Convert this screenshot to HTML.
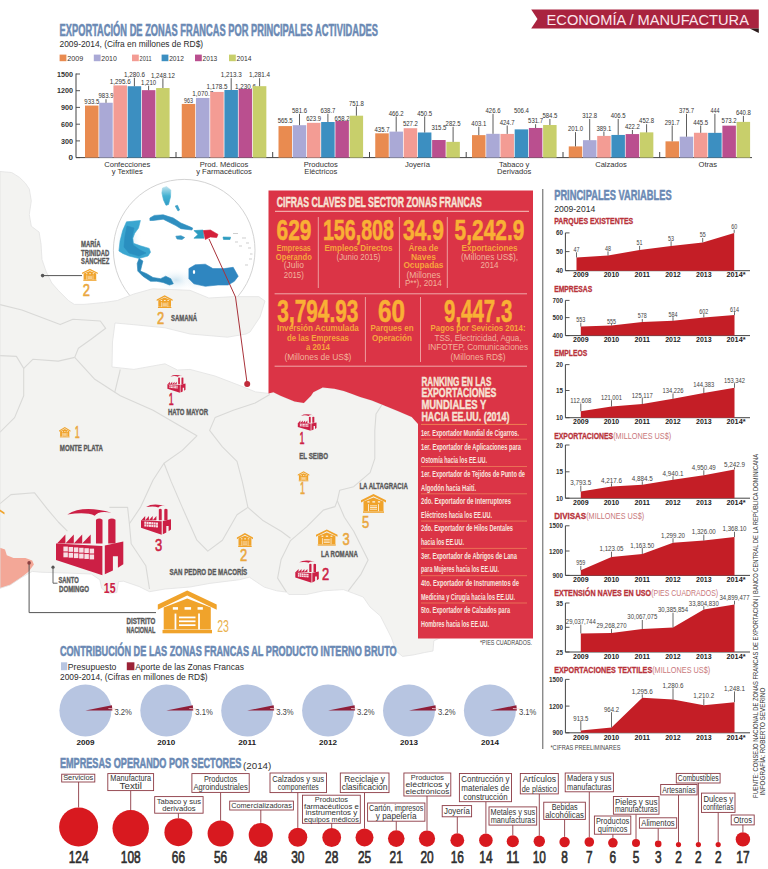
<!DOCTYPE html>
<html><head><meta charset="utf-8"><style>
html,body{margin:0;padding:0;background:#fff;width:768px;height:869px;overflow:hidden}
svg{display:block}
text{font-family:'Liberation Sans', sans-serif}
</style></head><body>
<svg width="768" height="869" viewBox="0 0 768 869">
<rect width="768" height="869" fill="#ffffff"/>
<circle cx="184.2" cy="250.2" r="70.8" fill="#ffffff" stroke="#d3d3d3" stroke-width="1"/>
<defs><radialGradient id="haze" cx="0.5" cy="0.5" r="0.5"><stop offset="0" stop-color="#cfe5f1"/><stop offset="1" stop-color="#ffffff" stop-opacity="0"/></radialGradient><linearGradient id="fl" x1="0" y1="0" x2="0" y2="1"><stop offset="0" stop-color="#bfe3ee"/><stop offset="0.5" stop-color="#45b2d2"/><stop offset="1" stop-color="#2f9cc6"/></linearGradient></defs>
<ellipse cx="176" cy="280" rx="22" ry="12" fill="url(#haze)"/>
<ellipse cx="196" cy="278" rx="14" ry="14" fill="url(#haze)"/>
<ellipse cx="128" cy="240" rx="14" ry="22" fill="url(#haze)"/>
<polygon points="162.5,188.0 166.5,186.5 170.8,190.0 170.5,197.0 168.5,204.5 166.0,205.3 163.5,200.0 161.9,193.0" fill="url(#fl)" stroke="url(#fl)" stroke-width="0.6" stroke-linejoin="round"/>
<polygon points="175.2,206.0 177.5,205.3 179.6,210.0 178.0,211.0" fill="#3a9fc6" stroke="#3a9fc6" stroke-width="0.6" stroke-linejoin="round"/>
<polygon points="149.9,218.0 154.3,215.4 163.2,214.8 173.3,218.0 180.9,223.0 190.0,226.8 192.7,228.1 192.0,230.0 180.9,228.7 175.8,225.6 163.2,219.2 153.0,220.5 149.9,220.5" fill="#2f8fc0" stroke="#2f8fc0" stroke-width="0.6" stroke-linejoin="round"/>
<polygon points="175.8,236.2 181.0,235.7 184.7,237.5 182.0,239.5 177.0,239.0" fill="#3596c3" stroke="#3596c3" stroke-width="0.6" stroke-linejoin="round"/>
<polygon points="126.5,221.8 140.4,220.5 138.5,228.1 134.7,233.2 132.8,238.2 133.4,243.3 140.4,245.8 149.2,248.4 150.5,252.2 148.0,256.0 139.1,258.5 129.0,256.0 122.7,253.4 118.9,250.9 120.1,240.8 122.7,230.6" fill="#3aa6d0" stroke="#3aa6d0" stroke-width="0.6" stroke-linejoin="round"/>
<polygon points="127.0,226.0 134.0,228.0 132.0,238.0 133.0,245.0 140.0,250.0 146.0,253.0 139.0,256.0 129.0,253.0 124.0,247.0 125.0,236.0" fill="#2a8fc0" stroke="#2a8fc0" stroke-width="0.6" stroke-linejoin="round"/>
<polygon points="139.1,258.5 142.9,261.0 141.6,266.1 140.4,271.1 146.7,273.7 153.0,277.5 160.6,278.7 165.7,276.2 170.8,278.7 173.3,283.8 169.5,285.0 163.2,282.5 156.8,281.3 150.5,281.3 142.9,276.2 137.8,271.1 137.2,263.5" fill="#2a86b8" stroke="#2a86b8" stroke-width="0.6" stroke-linejoin="round"/>
<polygon points="193.9,230.6 203.0,230.0 204.0,238.2 193.9,238.2 198.0,234.5" fill="#2c9bbf" stroke="#2c9bbf" stroke-width="0.6" stroke-linejoin="round"/>
<polygon points="203.4,230.6 210.4,230.0 218.0,234.4 216.7,237.6 210.4,237.0 205.3,239.5" fill="#d4203a" stroke="#d4203a" stroke-width="0.6" stroke-linejoin="round"/>
<polygon points="223.0,237.0 230.6,237.2 230.0,239.5 223.5,239.5" fill="#2c9bbf" stroke="#2c9bbf" stroke-width="0.6" stroke-linejoin="round"/>
<line x1="233" y1="233.5" x2="238" y2="233.5" stroke="#b9b9b9" stroke-width="0.7"/>
<line x1="242" y1="238" x2="246" y2="238" stroke="#b9b9b9" stroke-width="0.7"/>
<line x1="246" y1="243" x2="249" y2="243" stroke="#b9b9b9" stroke-width="0.7"/>
<line x1="248" y1="248" x2="251" y2="248" stroke="#b9b9b9" stroke-width="0.7"/>
<line x1="250" y1="254" x2="252.5" y2="254" stroke="#b9b9b9" stroke-width="0.7"/>
<line x1="249" y1="259" x2="252" y2="259" stroke="#b9b9b9" stroke-width="0.7"/>
<line x1="245" y1="265" x2="248" y2="265" stroke="#b9b9b9" stroke-width="0.7"/>
<line x1="235" y1="242" x2="238" y2="242" stroke="#b9b9b9" stroke-width="0.7"/>
<line x1="239" y1="246" x2="242" y2="246" stroke="#b9b9b9" stroke-width="0.7"/>
<polygon points="188.9,268.6 195.2,264.8 205.3,264.2 212.9,268.6 224.3,268.6 233.2,267.3 238.2,276.2 234.4,281.3 228.1,285.0 218.0,285.0 205.3,286.3 193.9,283.8 188.9,278.7" fill="#2f86c0" stroke="#2f86c0" stroke-width="0.6" stroke-linejoin="round"/>
<ellipse cx="194" cy="272" rx="1.2" ry="2" fill="#ffffff"/>
<polygon points="0.0,171.5 11.7,172.5 19.5,177.4 25.4,183.2 29.3,189.0 31.3,200.8 29.3,214.5 31.3,226.2 39.1,232.1 41.0,243.8 42.0,259.5 46.0,271.2 51.8,283.0 58.7,290.8 68.4,300.5 74.3,304.4 84.0,304.4 103.6,302.5 117.3,300.5 133.8,294.0 152.5,288.8 190.0,290.3 208.8,298.0 233.8,296.6 258.8,296.6 265.0,301.0 260.0,317.0 250.0,332.0 246.0,334.0 227.5,337.2 190.0,334.0 165.0,327.8 133.8,324.7 115.0,323.0 112.5,342.0 112.0,367.0 133.8,369.4 165.0,363.8 177.5,370.0 190.0,369.4 215.0,376.0 240.0,385.6 255.6,391.9 268.8,393.4 273.4,392.2 280.5,395.8 294.5,401.6 303.9,402.9 311.0,395.8 313.3,392.2 322.7,387.6 334.4,388.7 343.8,391.0 350.8,393.4 360.2,397.0 371.9,400.5 383.6,405.2 397.7,411.0 411.7,416.9 420.0,424.0 440.0,430.0 440.0,638.0 433.8,640.8 433.0,651.0 424.7,652.5 413.0,655.0 402.5,656.4 396.0,651.0 391.5,638.0 387.0,629.0 380.4,616.0 370.0,607.0 363.2,597.0 353.3,593.3 343.4,589.6 323.6,590.8 306.3,594.5 289.0,594.5 286.5,592.1 276.6,590.8 264.2,587.1 256.8,582.2 249.4,577.2 239.5,579.7 209.8,583.4 190.0,587.0 165.0,589.0 149.5,591.7 139.0,586.5 123.4,581.2 118.5,581.6 116.8,592.6 108.3,593.4 101.6,588.3 99.9,579.9 91.4,574.0 67.7,573.1 40.6,572.2 32.2,571.4 20.3,578.2 10.2,585.0 0.0,588.3" fill="#f3f3f1"/>
<polygon points="0.0,547.7 5.0,549.4 6.8,555.3 13.5,557.9 25.4,557.9 32.2,560.4 33.9,564.6 28.8,571.4 20.3,578.2 10.2,585.0 0.0,588.3" fill="#f3a797"/>
<polyline points="0.0,304.6 21.9,310.0 60.2,324.6 72.9,319.2 100.3,321.0 105.7,328.3 91.1,339.2 78.4,348.3 74.7,357.4" fill="none" stroke="#d9d9d7" stroke-width="1.1" stroke-linejoin="round"/>
<polyline points="23.7,368.4 32.8,359.3 58.3,361.1 74.7,357.4" fill="none" stroke="#d9d9d7" stroke-width="1.1" stroke-linejoin="round"/>
<polyline points="0.0,355.6 16.4,356.4 23.7,368.4 23.7,395.7 14.6,417.6 0.0,432.2" fill="none" stroke="#d9d9d7" stroke-width="1.1" stroke-linejoin="round"/>
<polyline points="74.7,357.4 94.8,379.3 120.3,395.7 153.1,410.3 196.9,435.8 182.3,450.4 164.0,463.2 153.1,480.0 140.4,507.4 129.4,523.8 131.2,543.8 145.8,565.7 149.5,589.0" fill="none" stroke="#d9d9d7" stroke-width="1.1" stroke-linejoin="round"/>
<polyline points="120.3,369.5 114.8,392.1" fill="none" stroke="#d9d9d7" stroke-width="1.1" stroke-linejoin="round"/>
<polyline points="269.8,394.5 255.2,403.0 233.3,410.3 215.1,417.6 209.6,430.4 222.4,446.8 237.0,461.3 242.4,481.9 247.9,507.4 262.5,520.2 281.1,531.2 290.5,538.3" fill="none" stroke="#d9d9d7" stroke-width="1.1" stroke-linejoin="round"/>
<polyline points="164.0,463.2 171.3,481.9 182.3,507.4 196.9,540.2 207.8,551.1 222.4,540.2 237.0,514.7 247.9,507.4" fill="none" stroke="#d9d9d7" stroke-width="1.1" stroke-linejoin="round"/>
<polyline points="0.0,503.7 10.9,494.6 34.6,492.8 47.4,509.2 58.3,522.0 67.4,531.1" fill="none" stroke="#d9d9d7" stroke-width="1.1" stroke-linejoin="round"/>
<polyline points="109.4,507.4 127.6,507.4 129.4,523.8" fill="none" stroke="#d9d9d7" stroke-width="1.1" stroke-linejoin="round"/>
<polyline points="381.9,404.7 376.0,414.0 374.8,430.5 374.8,458.6 370.1,472.7 353.7,486.7 339.7,490.2 337.3,500.8 335.0,506.6 323.3,510.1 306.9,526.6 290.5,540.6 281.1,559.4 277.6,578.1 286.5,592.1" fill="none" stroke="#d9d9d7" stroke-width="1.1" stroke-linejoin="round"/>
<polyline points="337.3,500.8 344.4,517.2 353.7,531.2 363.1,550.0 368.1,559.9 360.7,574.7 348.3,590.8" fill="none" stroke="#d9d9d7" stroke-width="1.1" stroke-linejoin="round"/>
<polygon points="0.0,171.5 11.7,172.5 19.5,177.4 25.4,183.2 29.3,189.0 31.3,200.8 29.3,214.5 31.3,226.2 39.1,232.1 41.0,243.8 42.0,259.5 46.0,271.2 51.8,283.0 58.7,290.8 68.4,300.5 74.3,304.4 84.0,304.4 103.6,302.5 117.3,300.5 133.8,294.0 152.5,288.8 190.0,290.3 208.8,298.0 233.8,296.6 258.8,296.6 265.0,301.0 260.0,317.0 250.0,332.0 246.0,334.0 227.5,337.2 190.0,334.0 165.0,327.8 133.8,324.7 115.0,323.0 112.5,342.0 112.0,367.0 133.8,369.4 165.0,363.8 177.5,370.0 190.0,369.4 215.0,376.0 240.0,385.6 255.6,391.9 268.8,393.4 273.4,392.2 280.5,395.8 294.5,401.6 303.9,402.9 311.0,395.8 313.3,392.2 322.7,387.6 334.4,388.7 343.8,391.0 350.8,393.4 360.2,397.0 371.9,400.5 383.6,405.2 397.7,411.0 411.7,416.9 420.0,424.0 440.0,430.0 440.0,638.0 433.8,640.8 433.0,651.0 424.7,652.5 413.0,655.0 402.5,656.4 396.0,651.0 391.5,638.0 387.0,629.0 380.4,616.0 370.0,607.0 363.2,597.0 353.3,593.3 343.4,589.6 323.6,590.8 306.3,594.5 289.0,594.5 286.5,592.1 276.6,590.8 264.2,587.1 256.8,582.2 249.4,577.2 239.5,579.7 209.8,583.4 190.0,587.0 165.0,589.0 149.5,591.7 139.0,586.5 123.4,581.2 118.5,581.6 116.8,592.6 108.3,593.4 101.6,588.3 99.9,579.9 91.4,574.0 67.7,573.1 40.6,572.2 32.2,571.4 20.3,578.2 10.2,585.0 0.0,588.3" fill="none" stroke="#e2e2e2" stroke-width="0.8"/>
<polyline points="209,239 235.5,297 247.2,383.9" fill="none" stroke="#a9323a" stroke-width="1"/>
<circle cx="247.2" cy="383.9" r="3" fill="#c02a3a"/>
<text x="81.1" y="246.5" font-size="8.6" fill="#5a5a5a" font-weight="bold" text-anchor="start" textLength="19.400000000000006" lengthAdjust="spacingAndGlyphs" stroke="#5a5a5a" stroke-width="0.35">MARÍA</text>
<text x="81.1" y="255.7" font-size="8.6" fill="#5a5a5a" font-weight="bold" text-anchor="start" textLength="28.200000000000003" lengthAdjust="spacingAndGlyphs" stroke="#5a5a5a" stroke-width="0.35">TRINIDAD</text>
<text x="81.1" y="264.3" font-size="8.6" fill="#5a5a5a" font-weight="bold" text-anchor="start" textLength="28.200000000000003" lengthAdjust="spacingAndGlyphs" stroke="#5a5a5a" stroke-width="0.35">SÁNCHEZ</text>
<line x1="42.6" y1="275.6" x2="82" y2="275.6" stroke="#555" stroke-width="1"/>
<circle cx="42.6" cy="275.6" r="1.8" fill="#555"/>
<polygon points="82.0,272.7 89.9,268.7 97.8,272.7 97.8,274.1 89.9,270.2 82.0,274.1" fill="#f0a32b"/>
<polygon points="83.6,273.5 89.9,271.0 96.2,273.5 96.2,279.7 83.6,279.7" fill="#f0a32b"/>
<rect x="83.26" y="279.83" width="13.27" height="0.97" fill="#f0a32b"/>
<rect x="86.03" y="273.42" width="1.39" height="0.73" fill="#fff"/>
<rect x="89.17" y="273.42" width="1.75" height="0.73" fill="#fff"/>
<rect x="92.66" y="273.42" width="1.42" height="0.73" fill="#fff"/>
<line x1="86.74" y1="275.23" x2="86.74" y2="279.71" stroke="#fff" stroke-width="0.47"/>
<line x1="93.06" y1="275.23" x2="93.06" y2="279.71" stroke="#fff" stroke-width="0.47"/>
<line x1="87.69" y1="276.32" x2="92.11" y2="276.32" stroke="#fff" stroke-width="0.47"/>
<line x1="87.69" y1="277.41" x2="92.11" y2="277.41" stroke="#fff" stroke-width="0.47"/>
<line x1="87.69" y1="278.50" x2="92.11" y2="278.50" stroke="#fff" stroke-width="0.47"/>
<text x="86.3" y="295.9" font-size="16.5" fill="#eaa73e" font-weight="normal" text-anchor="middle" textLength="7.2" lengthAdjust="spacingAndGlyphs" stroke="#eaa73e" stroke-width="0.6">2</text>
<polygon points="156.7,299.4 164.6,295.2 172.6,299.4 172.6,301.0 164.6,296.7 156.7,301.0" fill="#f0a32b"/>
<polygon points="158.3,300.3 164.6,297.6 171.0,300.3 171.0,306.8 158.3,306.8" fill="#f0a32b"/>
<rect x="157.97" y="306.98" width="13.36" height="1.02" fill="#f0a32b"/>
<rect x="160.75" y="300.19" width="1.40" height="0.77" fill="#fff"/>
<rect x="163.92" y="300.19" width="1.76" height="0.77" fill="#fff"/>
<rect x="167.43" y="300.19" width="1.43" height="0.77" fill="#fff"/>
<line x1="161.47" y1="302.11" x2="161.47" y2="306.85" stroke="#fff" stroke-width="0.48"/>
<line x1="167.83" y1="302.11" x2="167.83" y2="306.85" stroke="#fff" stroke-width="0.48"/>
<line x1="162.42" y1="303.26" x2="166.88" y2="303.26" stroke="#fff" stroke-width="0.48"/>
<line x1="162.42" y1="304.42" x2="166.88" y2="304.42" stroke="#fff" stroke-width="0.48"/>
<line x1="162.42" y1="305.57" x2="166.88" y2="305.57" stroke="#fff" stroke-width="0.48"/>
<text x="160.5" y="324.1" font-size="16.5" fill="#eaa73e" font-weight="normal" text-anchor="middle" textLength="7.2" lengthAdjust="spacingAndGlyphs" stroke="#eaa73e" stroke-width="0.6">2</text>
<text x="171.0" y="321.3" font-size="8.6" fill="#5a5a5a" font-weight="bold" text-anchor="start" textLength="26" lengthAdjust="spacingAndGlyphs" stroke="#5a5a5a" stroke-width="0.35">SAMANÁ</text>
<path d="M170.44,376.41 Q174.64,373.74 182.35,375.93 Q178.80,375.24 177.81,376.73 Q175.55,375.61 170.44,376.41 Z" fill="#cc1f45"/>
<path d="M178.15,384.21 L178.15,377.85 Q179.03,377.11 179.91,377.85 L179.91,384.21 Z" fill="#cc1f45"/>
<path d="M181.45,384.21 L181.45,377.85 Q182.42,377.11 183.40,377.85 L183.40,384.21 Z" fill="#cc1f45"/>
<polygon points="167.7,384.2 169.9,381.8 169.9,384.2 172.2,381.8 172.2,384.2 174.5,381.8 174.5,384.2 176.7,381.8 176.7,384.2" fill="#cc1f45"/>
<polygon points="167.4,384.2 179.9,384.9 179.9,392.8 167.4,388.7" fill="#cc1f45"/>
<polygon points="180.5,384.8 185.5,383.6 185.5,389.8 184.1,390.8 184.1,387.7 182.7,387.7 182.7,391.5 180.5,392.5" fill="#cc1f45"/>
<rect x="169.39" y="385.05" width="1.19" height="1.31" fill="#f7dfe4"/>
<rect x="170.80" y="385.16" width="1.19" height="1.31" fill="#f7dfe4"/>
<rect x="172.21" y="385.28" width="1.19" height="1.31" fill="#f7dfe4"/>
<rect x="173.63" y="385.39" width="1.19" height="1.31" fill="#f7dfe4"/>
<rect x="175.04" y="385.50" width="1.19" height="1.31" fill="#f7dfe4"/>
<rect x="176.45" y="385.61" width="1.19" height="1.31" fill="#f7dfe4"/>
<rect x="169.39" y="386.64" width="1.19" height="1.31" fill="#f7dfe4"/>
<rect x="170.80" y="386.75" width="1.19" height="1.31" fill="#f7dfe4"/>
<rect x="172.21" y="386.87" width="1.19" height="1.31" fill="#f7dfe4"/>
<rect x="173.63" y="386.98" width="1.19" height="1.31" fill="#f7dfe4"/>
<rect x="175.04" y="387.09" width="1.19" height="1.31" fill="#f7dfe4"/>
<rect x="176.45" y="387.20" width="1.19" height="1.31" fill="#f7dfe4"/>
<text x="171.2" y="404.5" font-size="16.5" fill="#cc1f45" font-weight="normal" text-anchor="middle" textLength="5" lengthAdjust="spacingAndGlyphs" stroke="#cc1f45" stroke-width="0.6">1</text>
<text x="168.0" y="415.1" font-size="8.6" fill="#5a5a5a" font-weight="bold" text-anchor="start" textLength="40" lengthAdjust="spacingAndGlyphs" stroke="#5a5a5a" stroke-width="0.35">HATO MAYOR</text>
<polygon points="59.0,430.4 64.8,427.0 70.5,430.4 70.5,431.7 64.8,428.2 59.0,431.7" fill="#f0a32b"/>
<polygon points="60.1,431.2 64.8,429.0 69.3,431.2 69.3,436.5 60.1,436.5" fill="#f0a32b"/>
<rect x="59.92" y="436.57" width="9.66" height="0.83" fill="#f0a32b"/>
<rect x="61.93" y="431.06" width="1.01" height="0.62" fill="#fff"/>
<rect x="64.22" y="431.06" width="1.28" height="0.62" fill="#fff"/>
<rect x="66.76" y="431.06" width="1.03" height="0.62" fill="#fff"/>
<line x1="62.45" y1="432.62" x2="62.45" y2="436.46" stroke="#fff" stroke-width="0.45"/>
<line x1="67.05" y1="432.62" x2="67.05" y2="436.46" stroke="#fff" stroke-width="0.45"/>
<line x1="63.14" y1="433.55" x2="66.36" y2="433.55" stroke="#fff" stroke-width="0.45"/>
<line x1="63.14" y1="434.49" x2="66.36" y2="434.49" stroke="#fff" stroke-width="0.45"/>
<line x1="63.14" y1="435.42" x2="66.36" y2="435.42" stroke="#fff" stroke-width="0.45"/>
<text x="77.2" y="437.9" font-size="16.5" fill="#eaa73e" font-weight="normal" text-anchor="middle" textLength="5" lengthAdjust="spacingAndGlyphs" stroke="#eaa73e" stroke-width="0.6">1</text>
<text x="59.8" y="451.4" font-size="8.6" fill="#5a5a5a" font-weight="bold" text-anchor="start" textLength="43.2" lengthAdjust="spacingAndGlyphs" stroke="#5a5a5a" stroke-width="0.35">MONTE PLATA</text>
<path d="M300.94,415.65 Q305.28,413.18 313.25,415.21 Q309.58,414.56 308.55,415.95 Q306.22,414.91 300.94,415.65 Z" fill="#cc1f45"/>
<path d="M308.91,422.87 L308.91,416.99 Q309.81,416.30 310.72,416.99 L310.72,422.87 Z" fill="#cc1f45"/>
<path d="M312.31,422.87 L312.31,416.99 Q313.32,416.30 314.33,416.99 L314.33,422.87 Z" fill="#cc1f45"/>
<polygon points="298.1,422.9 300.4,420.6 300.4,422.9 302.8,420.6 302.8,422.9 305.1,420.6 305.1,422.9 307.4,420.6 307.4,422.9" fill="#cc1f45"/>
<polygon points="297.8,422.9 310.7,423.5 310.7,430.8 297.8,427.0" fill="#cc1f45"/>
<polygon points="311.4,423.4 316.5,422.4 316.5,428.1 315.0,428.9 315.0,426.1 313.6,426.1 313.6,429.6 311.4,430.6" fill="#cc1f45"/>
<rect x="299.86" y="423.65" width="1.23" height="1.21" fill="#f7dfe4"/>
<rect x="301.32" y="423.75" width="1.23" height="1.21" fill="#f7dfe4"/>
<rect x="302.77" y="423.86" width="1.23" height="1.21" fill="#f7dfe4"/>
<rect x="304.23" y="423.96" width="1.23" height="1.21" fill="#f7dfe4"/>
<rect x="305.69" y="424.06" width="1.23" height="1.21" fill="#f7dfe4"/>
<rect x="307.15" y="424.17" width="1.23" height="1.21" fill="#f7dfe4"/>
<rect x="299.86" y="425.12" width="1.23" height="1.21" fill="#f7dfe4"/>
<rect x="301.32" y="425.22" width="1.23" height="1.21" fill="#f7dfe4"/>
<rect x="302.77" y="425.33" width="1.23" height="1.21" fill="#f7dfe4"/>
<rect x="304.23" y="425.43" width="1.23" height="1.21" fill="#f7dfe4"/>
<rect x="305.69" y="425.53" width="1.23" height="1.21" fill="#f7dfe4"/>
<rect x="307.15" y="425.64" width="1.23" height="1.21" fill="#f7dfe4"/>
<text x="302.0" y="443.5" font-size="16.5" fill="#cc1f45" font-weight="normal" text-anchor="middle" textLength="5" lengthAdjust="spacingAndGlyphs" stroke="#cc1f45" stroke-width="0.6">1</text>
<text x="299.2" y="458.5" font-size="8.6" fill="#5a5a5a" font-weight="bold" text-anchor="start" textLength="28.80000000000001" lengthAdjust="spacingAndGlyphs" stroke="#5a5a5a" stroke-width="0.35">EL SEIBO</text>
<polygon points="297.8,474.6 303.6,471.3 309.3,474.6 309.3,475.8 303.6,472.5 297.8,475.8" fill="#f0a32b"/>
<polygon points="298.9,475.3 303.6,473.2 308.2,475.3 308.2,480.4 298.9,480.4" fill="#f0a32b"/>
<rect x="298.72" y="480.50" width="9.66" height="0.80" fill="#f0a32b"/>
<rect x="300.73" y="475.20" width="1.01" height="0.60" fill="#fff"/>
<rect x="303.02" y="475.20" width="1.28" height="0.60" fill="#fff"/>
<rect x="305.56" y="475.20" width="1.03" height="0.60" fill="#fff"/>
<line x1="301.25" y1="476.70" x2="301.25" y2="480.40" stroke="#fff" stroke-width="0.45"/>
<line x1="305.85" y1="476.70" x2="305.85" y2="480.40" stroke="#fff" stroke-width="0.45"/>
<line x1="301.94" y1="477.60" x2="305.16" y2="477.60" stroke="#fff" stroke-width="0.45"/>
<line x1="301.94" y1="478.50" x2="305.16" y2="478.50" stroke="#fff" stroke-width="0.45"/>
<line x1="301.94" y1="479.40" x2="305.16" y2="479.40" stroke="#fff" stroke-width="0.45"/>
<text x="302.5" y="494.4" font-size="16.5" fill="#eaa73e" font-weight="normal" text-anchor="middle" textLength="5" lengthAdjust="spacingAndGlyphs" stroke="#eaa73e" stroke-width="0.6">1</text>
<text x="359.4" y="489.3" font-size="8.6" fill="#5a5a5a" font-weight="bold" text-anchor="start" textLength="48.400000000000034" lengthAdjust="spacingAndGlyphs" stroke="#5a5a5a" stroke-width="0.35">LA ALTAGRACIA</text>
<polygon points="361.0,500.2 373.5,494.0 386.0,500.2 386.0,502.5 373.5,496.3 361.0,502.5" fill="#f0a32b"/>
<polygon points="363.5,501.5 373.5,497.6 383.5,501.5 383.5,511.1 363.5,511.1" fill="#f0a32b"/>
<rect x="363.00" y="511.30" width="21.00" height="1.50" fill="#f0a32b"/>
<rect x="367.38" y="501.33" width="2.20" height="1.13" fill="#fff"/>
<rect x="372.35" y="501.33" width="2.77" height="1.13" fill="#fff"/>
<rect x="377.88" y="501.33" width="2.25" height="1.13" fill="#fff"/>
<line x1="368.50" y1="504.15" x2="368.50" y2="511.11" stroke="#fff" stroke-width="0.75"/>
<line x1="378.50" y1="504.15" x2="378.50" y2="511.11" stroke="#fff" stroke-width="0.75"/>
<line x1="370.00" y1="505.84" x2="377.00" y2="505.84" stroke="#fff" stroke-width="0.75"/>
<line x1="370.00" y1="507.54" x2="377.00" y2="507.54" stroke="#fff" stroke-width="0.75"/>
<line x1="370.00" y1="509.23" x2="377.00" y2="509.23" stroke="#fff" stroke-width="0.75"/>
<text x="365.5" y="527.9" font-size="16.5" fill="#eaa73e" font-weight="normal" text-anchor="middle" textLength="7.2" lengthAdjust="spacingAndGlyphs" stroke="#eaa73e" stroke-width="0.6">5</text>
<polygon points="316.0,534.7 326.8,529.4 337.5,534.7 337.5,536.7 326.8,531.3 316.0,536.7" fill="#f0a32b"/>
<polygon points="318.1,535.9 326.8,532.5 335.4,535.9 335.4,544.1 318.1,544.1" fill="#f0a32b"/>
<rect x="317.72" y="544.30" width="18.06" height="1.30" fill="#f0a32b"/>
<rect x="321.48" y="535.72" width="1.89" height="0.97" fill="#fff"/>
<rect x="325.76" y="535.72" width="2.39" height="0.97" fill="#fff"/>
<rect x="330.51" y="535.72" width="1.93" height="0.97" fill="#fff"/>
<line x1="322.45" y1="538.15" x2="322.45" y2="544.14" stroke="#fff" stroke-width="0.65"/>
<line x1="331.05" y1="538.15" x2="331.05" y2="544.14" stroke="#fff" stroke-width="0.65"/>
<line x1="323.74" y1="539.61" x2="329.76" y2="539.61" stroke="#fff" stroke-width="0.65"/>
<line x1="323.74" y1="541.06" x2="329.76" y2="541.06" stroke="#fff" stroke-width="0.65"/>
<line x1="323.74" y1="542.52" x2="329.76" y2="542.52" stroke="#fff" stroke-width="0.65"/>
<text x="346.0" y="545.3" font-size="16.5" fill="#eaa73e" font-weight="normal" text-anchor="middle" textLength="7.2" lengthAdjust="spacingAndGlyphs" stroke="#eaa73e" stroke-width="0.6">3</text>
<text x="321.0" y="557.1" font-size="8.6" fill="#5a5a5a" font-weight="bold" text-anchor="start" textLength="36.80000000000001" lengthAdjust="spacingAndGlyphs" stroke="#5a5a5a" stroke-width="0.35">LA ROMANA</text>
<path d="M299.24,562.33 Q304.68,559.00 314.67,561.73 Q310.07,560.87 308.78,562.73 Q305.85,561.33 299.24,562.33 Z" fill="#cc1f45"/>
<path d="M309.23,572.05 L309.23,564.13 Q310.37,563.20 311.50,564.13 L311.50,572.05 Z" fill="#cc1f45"/>
<path d="M313.50,572.05 L313.50,564.13 Q314.76,563.20 316.03,564.13 L316.03,572.05 Z" fill="#cc1f45"/>
<polygon points="295.7,572.0 298.6,569.0 298.6,572.0 301.5,569.0 301.5,572.0 304.4,569.0 304.4,572.0 307.4,569.0 307.4,572.0" fill="#cc1f45"/>
<polygon points="295.3,572.0 311.5,572.9 311.5,582.8 295.3,577.6" fill="#cc1f45"/>
<polygon points="312.3,572.7 318.8,571.4 318.8,579.0 316.9,580.2 316.9,576.4 315.1,576.4 315.1,581.1 312.3,582.4" fill="#cc1f45"/>
<rect x="297.88" y="573.10" width="1.55" height="1.63" fill="#f7dfe4"/>
<rect x="299.71" y="573.24" width="1.55" height="1.63" fill="#f7dfe4"/>
<rect x="301.54" y="573.38" width="1.55" height="1.63" fill="#f7dfe4"/>
<rect x="303.37" y="573.52" width="1.55" height="1.63" fill="#f7dfe4"/>
<rect x="305.20" y="573.66" width="1.55" height="1.63" fill="#f7dfe4"/>
<rect x="307.02" y="573.80" width="1.55" height="1.63" fill="#f7dfe4"/>
<rect x="297.88" y="575.08" width="1.55" height="1.63" fill="#f7dfe4"/>
<rect x="299.71" y="575.22" width="1.55" height="1.63" fill="#f7dfe4"/>
<rect x="301.54" y="575.36" width="1.55" height="1.63" fill="#f7dfe4"/>
<rect x="303.37" y="575.50" width="1.55" height="1.63" fill="#f7dfe4"/>
<rect x="305.20" y="575.64" width="1.55" height="1.63" fill="#f7dfe4"/>
<rect x="307.02" y="575.78" width="1.55" height="1.63" fill="#f7dfe4"/>
<text x="325.5" y="579.7" font-size="16.5" fill="#cc1f45" font-weight="normal" text-anchor="middle" textLength="7.2" lengthAdjust="spacingAndGlyphs" stroke="#cc1f45" stroke-width="0.6">2</text>
<polygon points="236.9,537.6 244.9,533.0 253.0,537.6 253.0,539.3 244.9,534.7 236.9,539.3" fill="#f0a32b"/>
<polygon points="238.5,538.6 244.9,535.7 251.4,538.6 251.4,545.7 238.5,545.7" fill="#f0a32b"/>
<rect x="238.19" y="545.88" width="13.52" height="1.12" fill="#f0a32b"/>
<rect x="241.01" y="538.46" width="1.42" height="0.84" fill="#fff"/>
<rect x="244.21" y="538.46" width="1.79" height="0.84" fill="#fff"/>
<rect x="247.77" y="538.46" width="1.45" height="0.84" fill="#fff"/>
<line x1="241.73" y1="540.56" x2="241.73" y2="545.74" stroke="#fff" stroke-width="0.48"/>
<line x1="248.17" y1="540.56" x2="248.17" y2="545.74" stroke="#fff" stroke-width="0.48"/>
<line x1="242.70" y1="541.82" x2="247.20" y2="541.82" stroke="#fff" stroke-width="0.48"/>
<line x1="242.70" y1="543.08" x2="247.20" y2="543.08" stroke="#fff" stroke-width="0.48"/>
<line x1="242.70" y1="544.34" x2="247.20" y2="544.34" stroke="#fff" stroke-width="0.48"/>
<text x="243.5" y="560.9" font-size="16.5" fill="#eaa73e" font-weight="normal" text-anchor="middle" textLength="7.2" lengthAdjust="spacingAndGlyphs" stroke="#eaa73e" stroke-width="0.6">2</text>
<text x="169.5" y="574.5" font-size="8.6" fill="#5a5a5a" font-weight="bold" text-anchor="start" textLength="77.69999999999999" lengthAdjust="spacingAndGlyphs" stroke="#5a5a5a" stroke-width="0.35">SAN PEDRO DE MACORÍS</text>
<path d="M146.04,507.06 Q153.00,502.56 165.78,506.24 Q159.90,505.07 158.25,507.60 Q154.50,505.70 146.04,507.06 Z" fill="#cc1f45"/>
<path d="M158.82,520.20 L158.82,509.49 Q160.28,508.23 161.73,509.49 L161.73,520.20 Z" fill="#cc1f45"/>
<path d="M164.28,520.20 L164.28,509.49 Q165.90,508.23 167.52,509.49 L167.52,520.20 Z" fill="#cc1f45"/>
<polygon points="141.4,520.2 145.2,516.1 145.2,520.2 148.9,516.1 148.9,520.2 152.7,516.1 152.7,520.2 156.4,516.1 156.4,520.2" fill="#cc1f45"/>
<polygon points="141.0,520.2 161.7,521.3 161.7,534.7 141.0,527.8" fill="#cc1f45"/>
<polygon points="162.8,521.1 171.0,519.2 171.0,529.6 168.6,531.2 168.6,526.0 166.3,526.0 166.3,532.5 162.8,534.2" fill="#cc1f45"/>
<rect x="144.30" y="521.61" width="1.98" height="2.21" fill="#f7dfe4"/>
<rect x="146.64" y="521.80" width="1.98" height="2.21" fill="#f7dfe4"/>
<rect x="148.98" y="521.99" width="1.98" height="2.21" fill="#f7dfe4"/>
<rect x="151.32" y="522.18" width="1.98" height="2.21" fill="#f7dfe4"/>
<rect x="153.66" y="522.37" width="1.98" height="2.21" fill="#f7dfe4"/>
<rect x="156.00" y="522.56" width="1.98" height="2.21" fill="#f7dfe4"/>
<rect x="144.30" y="524.29" width="1.98" height="2.21" fill="#f7dfe4"/>
<rect x="146.64" y="524.48" width="1.98" height="2.21" fill="#f7dfe4"/>
<rect x="148.98" y="524.67" width="1.98" height="2.21" fill="#f7dfe4"/>
<rect x="151.32" y="524.86" width="1.98" height="2.21" fill="#f7dfe4"/>
<rect x="153.66" y="525.05" width="1.98" height="2.21" fill="#f7dfe4"/>
<rect x="156.00" y="525.24" width="1.98" height="2.21" fill="#f7dfe4"/>
<text x="158.5" y="550.9" font-size="16.5" fill="#cc1f45" font-weight="normal" text-anchor="middle" textLength="7.2" lengthAdjust="spacingAndGlyphs" stroke="#cc1f45" stroke-width="0.6">3</text>
<path d="M67.31,514.53 Q82.92,504.62 111.59,512.73 Q98.40,510.16 94.70,515.71 Q86.28,511.55 67.31,514.53 Z" fill="#cc1f45"/>
<path d="M95.98,543.43 L95.98,519.87 Q99.24,517.10 102.50,519.87 L102.50,543.43 Z" fill="#cc1f45"/>
<path d="M108.22,543.43 L108.22,519.87 Q111.86,517.10 115.49,519.87 L115.49,543.43 Z" fill="#cc1f45"/>
<polygon points="57.0,543.4 65.4,534.4 65.4,543.4 73.8,534.4 73.8,543.4 82.2,534.4 82.2,543.4 90.7,534.4 90.7,543.4" fill="#cc1f45"/>
<polygon points="56.0,543.4 102.4,545.9 102.4,575.3 56.0,560.1" fill="#cc1f45"/>
<polygon points="104.8,545.5 123.3,541.4 123.3,564.2 117.9,567.7 117.9,556.2 112.9,556.2 112.9,570.5 104.8,574.3" fill="#cc1f45"/>
<rect x="63.40" y="546.55" width="4.44" height="4.85" fill="#f7dfe4"/>
<rect x="68.65" y="546.96" width="4.44" height="4.85" fill="#f7dfe4"/>
<rect x="73.90" y="547.38" width="4.44" height="4.85" fill="#f7dfe4"/>
<rect x="79.15" y="547.79" width="4.44" height="4.85" fill="#f7dfe4"/>
<rect x="84.40" y="548.21" width="4.44" height="4.85" fill="#f7dfe4"/>
<rect x="89.65" y="548.63" width="4.44" height="4.85" fill="#f7dfe4"/>
<rect x="63.40" y="552.44" width="4.44" height="4.85" fill="#f7dfe4"/>
<rect x="68.65" y="552.85" width="4.44" height="4.85" fill="#f7dfe4"/>
<rect x="73.90" y="553.27" width="4.44" height="4.85" fill="#f7dfe4"/>
<rect x="79.15" y="553.69" width="4.44" height="4.85" fill="#f7dfe4"/>
<rect x="84.40" y="554.10" width="4.44" height="4.85" fill="#f7dfe4"/>
<rect x="89.65" y="554.52" width="4.44" height="4.85" fill="#f7dfe4"/>
<text x="109.7" y="592.6" font-size="15.5" fill="#cc1f45" font-weight="bold" text-anchor="middle" textLength="11.7" lengthAdjust="spacingAndGlyphs">15</text>
<polyline points="53,567.2 53,583.2 57.5,583.2" fill="none" stroke="#555" stroke-width="0.9"/>
<circle cx="53" cy="567.2" r="1.6" fill="#555"/>
<text x="58.4" y="582.9" font-size="8.2" fill="#5a5a5a" font-weight="bold" text-anchor="start" textLength="20.300000000000004" lengthAdjust="spacingAndGlyphs" stroke="#5a5a5a" stroke-width="0.35">SANTO</text>
<text x="59.0" y="592.2" font-size="8.2" fill="#5a5a5a" font-weight="bold" text-anchor="start" textLength="30" lengthAdjust="spacingAndGlyphs" stroke="#5a5a5a" stroke-width="0.35">DOMINGO</text>
<polyline points="29.1,562.9 29.1,612.6 156,612.6" fill="none" stroke="#555" stroke-width="1"/>
<circle cx="29.1" cy="562.9" r="1.8" fill="#8a4040"/>
<text x="126.5" y="623.9" font-size="8.2" fill="#5a5a5a" font-weight="bold" text-anchor="start" textLength="28.80000000000001" lengthAdjust="spacingAndGlyphs" stroke="#5a5a5a" stroke-width="0.35">DISTRITO</text>
<text x="126.5" y="632.5" font-size="8.2" fill="#5a5a5a" font-weight="bold" text-anchor="start" textLength="28.80000000000001" lengthAdjust="spacingAndGlyphs" stroke="#5a5a5a" stroke-width="0.35">NACIONAL</text>
<polygon points="157.8,604.6 187.2,590.4 216.7,604.6 216.7,609.7 187.2,595.5 157.8,609.7" fill="#f0a32b"/>
<polygon points="163.7,607.6 187.2,598.6 210.8,607.6 210.8,629.4 163.7,629.4" fill="#f0a32b"/>
<rect x="162.51" y="629.87" width="49.48" height="3.43" fill="#f0a32b"/>
<rect x="172.82" y="607.13" width="5.18" height="2.57" fill="#fff"/>
<rect x="184.54" y="607.13" width="6.54" height="2.57" fill="#fff"/>
<rect x="197.56" y="607.13" width="5.30" height="2.57" fill="#fff"/>
<line x1="175.47" y1="613.57" x2="175.47" y2="629.44" stroke="#fff" stroke-width="1.77"/>
<line x1="199.03" y1="613.57" x2="199.03" y2="629.44" stroke="#fff" stroke-width="1.77"/>
<line x1="179.00" y1="617.43" x2="195.50" y2="617.43" stroke="#fff" stroke-width="1.77"/>
<line x1="179.00" y1="621.29" x2="195.50" y2="621.29" stroke="#fff" stroke-width="1.77"/>
<line x1="179.00" y1="625.15" x2="195.50" y2="625.15" stroke="#fff" stroke-width="1.77"/>
<text x="223.0" y="631.8" font-size="16" fill="#e9b04c" font-weight="normal" text-anchor="middle" textLength="11.7" lengthAdjust="spacingAndGlyphs">23</text>
<path d="M0,509.5 L4.5,512.5 L4.5,514.5 L0,511.5 Z" fill="#f0a32b"/>
<polygon points="531.2,9.4 758.8,9.4 758.8,28.4 531.2,28.4 537.5,18.9" fill="#a9233f"/>
<polygon points="749.7,28.4 758.8,28.4 758.8,33.1" fill="#2a1a1a"/>
<text x="546.6" y="25.3" font-size="14.8" fill="#fbe6ec" font-weight="normal" text-anchor="start" textLength="202.3" lengthAdjust="spacingAndGlyphs">ECONOMÍA / MANUFACTURA</text>
<text x="59.6" y="36.3" font-size="15.8" fill="#6a89b4" font-weight="bold" text-anchor="start" textLength="318.4" lengthAdjust="spacingAndGlyphs" stroke="#6a89b4" stroke-width="0.55">EXPORTACIÓN DE ZONAS FRANCAS POR PRINCIPALES ACTIVIDADES</text>
<text x="59.5" y="47.0" font-size="9.2" fill="#2b2b2b" font-weight="normal" text-anchor="start" textLength="143.6" lengthAdjust="spacingAndGlyphs">2009-2014, (Cifra en millones de RD$)</text>
<rect x="59.6" y="54.6" width="6.8" height="6.6" fill="#e98b50"/>
<text x="67.2" y="60.7" font-size="7" fill="#333" font-weight="normal" text-anchor="start" textLength="16.000000000000004" lengthAdjust="spacingAndGlyphs">2009</text>
<rect x="93.8" y="54.6" width="6.8" height="6.6" fill="#aaa9d6"/>
<text x="101.3" y="60.7" font-size="7" fill="#333" font-weight="normal" text-anchor="start" textLength="15.45" lengthAdjust="spacingAndGlyphs">2010</text>
<rect x="132.0" y="54.6" width="6.8" height="6.6" fill="#f39c94"/>
<text x="139.6" y="60.7" font-size="7" fill="#333" font-weight="normal" text-anchor="start" textLength="11.899999999999988" lengthAdjust="spacingAndGlyphs">2011</text>
<rect x="161.6" y="54.6" width="6.8" height="6.6" fill="#3c8fc1"/>
<text x="169.2" y="60.7" font-size="7" fill="#333" font-weight="normal" text-anchor="start" textLength="14.600000000000005" lengthAdjust="spacingAndGlyphs">2012</text>
<rect x="195.0" y="54.6" width="6.8" height="6.6" fill="#ba4f8f"/>
<text x="202.6" y="60.7" font-size="7" fill="#333" font-weight="normal" text-anchor="start" textLength="14.600000000000005" lengthAdjust="spacingAndGlyphs">2013</text>
<rect x="229.0" y="54.6" width="6.8" height="6.6" fill="#c8cf6b"/>
<text x="236.6" y="60.7" font-size="7" fill="#333" font-weight="normal" text-anchor="start" textLength="15.00000000000001" lengthAdjust="spacingAndGlyphs">2014</text>
<line x1="76" y1="73.5" x2="76" y2="157.6" stroke="#444" stroke-width="1"/>
<line x1="76" y1="157.6" x2="752" y2="157.6" stroke="#444" stroke-width="1"/>
<line x1="76" y1="74.0" x2="80" y2="74.0" stroke="#444" stroke-width="0.9"/>
<text x="73.0" y="76.6" font-size="7.2" fill="#333" font-weight="bold" text-anchor="end" textLength="16" lengthAdjust="spacingAndGlyphs">1500</text>
<line x1="76" y1="90.7" x2="80" y2="90.7" stroke="#444" stroke-width="0.9"/>
<text x="73.0" y="93.3" font-size="7.2" fill="#333" font-weight="bold" text-anchor="end" textLength="16" lengthAdjust="spacingAndGlyphs">1200</text>
<line x1="76" y1="107.4" x2="80" y2="107.4" stroke="#444" stroke-width="0.9"/>
<text x="73.0" y="110.0" font-size="7.2" fill="#333" font-weight="bold" text-anchor="end" textLength="12" lengthAdjust="spacingAndGlyphs">900</text>
<line x1="76" y1="124.2" x2="80" y2="124.2" stroke="#444" stroke-width="0.9"/>
<text x="73.0" y="126.8" font-size="7.2" fill="#333" font-weight="bold" text-anchor="end" textLength="12" lengthAdjust="spacingAndGlyphs">600</text>
<line x1="76" y1="140.9" x2="80" y2="140.9" stroke="#444" stroke-width="0.9"/>
<text x="73.0" y="143.5" font-size="7.2" fill="#333" font-weight="bold" text-anchor="end" textLength="12" lengthAdjust="spacingAndGlyphs">300</text>
<line x1="76" y1="157.6" x2="80" y2="157.6" stroke="#444" stroke-width="0.9"/>
<text x="73.0" y="160.2" font-size="7.2" fill="#333" font-weight="bold" text-anchor="end" textLength="4.5" lengthAdjust="spacingAndGlyphs">0</text>
<rect x="85.00" y="105.57" width="13.5" height="52.03" fill="#e98b50"/>
<text x="91.8" y="104.4" font-size="6.8" fill="#333" font-weight="normal" text-anchor="middle" textLength="15.0" lengthAdjust="spacingAndGlyphs">933.5</text>
<rect x="99.22" y="102.76" width="13.5" height="54.84" fill="#aaa9d6"/>
<line x1="106.0" y1="99.2" x2="106.0" y2="102.8" stroke="#333" stroke-width="0.8"/>
<text x="106.0" y="98.4" font-size="6.8" fill="#333" font-weight="normal" text-anchor="middle" textLength="15.0" lengthAdjust="spacingAndGlyphs">983.9</text>
<rect x="113.44" y="85.39" width="13.5" height="72.21" fill="#f39c94"/>
<text x="120.2" y="83.9" font-size="6.8" fill="#333" font-weight="normal" text-anchor="middle" textLength="21.0" lengthAdjust="spacingAndGlyphs">1,295.6</text>
<rect x="127.66" y="86.23" width="13.5" height="71.37" fill="#3c8fc1"/>
<line x1="134.4" y1="77.8" x2="134.4" y2="86.2" stroke="#333" stroke-width="0.8"/>
<text x="134.4" y="77.0" font-size="6.8" fill="#333" font-weight="normal" text-anchor="middle" textLength="21.0" lengthAdjust="spacingAndGlyphs">1,280.6</text>
<rect x="141.88" y="90.16" width="13.5" height="67.44" fill="#ba4f8f"/>
<line x1="148.6" y1="85.7" x2="148.6" y2="90.2" stroke="#333" stroke-width="0.8"/>
<text x="148.6" y="84.9" font-size="6.8" fill="#333" font-weight="normal" text-anchor="middle" textLength="15.0" lengthAdjust="spacingAndGlyphs">1,210</text>
<rect x="156.10" y="88.04" width="13.5" height="69.56" fill="#c8cf6b"/>
<line x1="162.9" y1="78.4" x2="162.9" y2="88.0" stroke="#333" stroke-width="0.8"/>
<text x="162.9" y="77.6" font-size="6.8" fill="#333" font-weight="normal" text-anchor="middle" textLength="24.0" lengthAdjust="spacingAndGlyphs">1,248.12</text>
<text x="127.2" y="167.3" font-size="7.6" fill="#333" font-weight="normal" text-anchor="middle">Confecciones</text>
<text x="127.2" y="173.7" font-size="7.6" fill="#333" font-weight="normal" text-anchor="middle">y Textiles</text>
<line x1="176.0" y1="152" x2="176.0" y2="157.6" stroke="#444" stroke-width="1"/>
<rect x="181.75" y="103.93" width="13.5" height="53.67" fill="#e98b50"/>
<text x="188.5" y="103.4" font-size="6.8" fill="#333" font-weight="normal" text-anchor="middle" textLength="9.0" lengthAdjust="spacingAndGlyphs">963</text>
<rect x="195.97" y="97.93" width="13.5" height="59.67" fill="#aaa9d6"/>
<text x="202.7" y="96.4" font-size="6.8" fill="#333" font-weight="normal" text-anchor="middle" textLength="21.0" lengthAdjust="spacingAndGlyphs">1,070.7</text>
<rect x="210.19" y="91.92" width="13.5" height="65.68" fill="#f39c94"/>
<text x="216.9" y="88.9" font-size="6.8" fill="#333" font-weight="normal" text-anchor="middle" textLength="21.0" lengthAdjust="spacingAndGlyphs">1,178.5</text>
<rect x="224.41" y="89.98" width="13.5" height="67.62" fill="#3c8fc1"/>
<line x1="231.2" y1="78.2" x2="231.2" y2="90.0" stroke="#333" stroke-width="0.8"/>
<text x="231.2" y="77.4" font-size="6.8" fill="#333" font-weight="normal" text-anchor="middle" textLength="21.0" lengthAdjust="spacingAndGlyphs">1,213.3</text>
<rect x="238.63" y="89.01" width="13.5" height="68.59" fill="#ba4f8f"/>
<text x="245.4" y="88.9" font-size="6.8" fill="#333" font-weight="normal" text-anchor="middle" textLength="21.0" lengthAdjust="spacingAndGlyphs">1,230.6</text>
<rect x="252.85" y="86.18" width="13.5" height="71.42" fill="#c8cf6b"/>
<line x1="259.6" y1="78.2" x2="259.6" y2="86.2" stroke="#333" stroke-width="0.8"/>
<text x="259.6" y="77.4" font-size="6.8" fill="#333" font-weight="normal" text-anchor="middle" textLength="21.0" lengthAdjust="spacingAndGlyphs">1,281.4</text>
<text x="224.0" y="167.3" font-size="7.6" fill="#333" font-weight="normal" text-anchor="middle">Prod. Médicos</text>
<text x="224.0" y="173.7" font-size="7.6" fill="#333" font-weight="normal" text-anchor="middle">y Farmacéuticos</text>
<line x1="272.7" y1="152" x2="272.7" y2="157.6" stroke="#444" stroke-width="1"/>
<rect x="278.50" y="126.08" width="13.5" height="31.52" fill="#e98b50"/>
<text x="285.2" y="123.2" font-size="6.8" fill="#333" font-weight="normal" text-anchor="middle" textLength="15.0" lengthAdjust="spacingAndGlyphs">565.5</text>
<rect x="292.72" y="125.19" width="13.5" height="32.41" fill="#aaa9d6"/>
<line x1="299.5" y1="113.8" x2="299.5" y2="125.2" stroke="#333" stroke-width="0.8"/>
<text x="299.5" y="113.0" font-size="6.8" fill="#333" font-weight="normal" text-anchor="middle" textLength="15.0" lengthAdjust="spacingAndGlyphs">581.6</text>
<rect x="306.94" y="122.83" width="13.5" height="34.77" fill="#f39c94"/>
<text x="313.7" y="121.3" font-size="6.8" fill="#333" font-weight="normal" text-anchor="middle" textLength="15.0" lengthAdjust="spacingAndGlyphs">623.9</text>
<rect x="321.16" y="122.00" width="13.5" height="35.60" fill="#3c8fc1"/>
<line x1="327.9" y1="113.8" x2="327.9" y2="122.0" stroke="#333" stroke-width="0.8"/>
<text x="327.9" y="113.0" font-size="6.8" fill="#333" font-weight="normal" text-anchor="middle" textLength="15.0" lengthAdjust="spacingAndGlyphs">638.7</text>
<rect x="335.38" y="120.92" width="13.5" height="36.68" fill="#ba4f8f"/>
<text x="342.1" y="120.7" font-size="6.8" fill="#333" font-weight="normal" text-anchor="middle" textLength="15.0" lengthAdjust="spacingAndGlyphs">658.2</text>
<rect x="349.60" y="115.70" width="13.5" height="41.90" fill="#c8cf6b"/>
<line x1="356.4" y1="106.4" x2="356.4" y2="115.7" stroke="#333" stroke-width="0.8"/>
<text x="356.4" y="105.6" font-size="6.8" fill="#333" font-weight="normal" text-anchor="middle" textLength="15.0" lengthAdjust="spacingAndGlyphs">751.8</text>
<text x="320.8" y="167.3" font-size="7.6" fill="#333" font-weight="normal" text-anchor="middle">Productos</text>
<text x="320.8" y="173.7" font-size="7.6" fill="#333" font-weight="normal" text-anchor="middle">Eléctricos</text>
<line x1="369.5" y1="152" x2="369.5" y2="157.6" stroke="#444" stroke-width="1"/>
<rect x="375.25" y="133.32" width="13.5" height="24.28" fill="#e98b50"/>
<text x="382.0" y="131.8" font-size="6.8" fill="#333" font-weight="normal" text-anchor="middle" textLength="15.0" lengthAdjust="spacingAndGlyphs">435.7</text>
<rect x="389.47" y="131.62" width="13.5" height="25.98" fill="#aaa9d6"/>
<line x1="396.2" y1="116.4" x2="396.2" y2="131.6" stroke="#333" stroke-width="0.8"/>
<text x="396.2" y="115.6" font-size="6.8" fill="#333" font-weight="normal" text-anchor="middle" textLength="15.0" lengthAdjust="spacingAndGlyphs">466.2</text>
<rect x="403.69" y="128.22" width="13.5" height="29.38" fill="#f39c94"/>
<text x="410.4" y="126.0" font-size="6.8" fill="#333" font-weight="normal" text-anchor="middle" textLength="15.0" lengthAdjust="spacingAndGlyphs">527.2</text>
<rect x="417.91" y="132.49" width="13.5" height="25.11" fill="#3c8fc1"/>
<line x1="424.7" y1="116.4" x2="424.7" y2="132.5" stroke="#333" stroke-width="0.8"/>
<text x="424.7" y="115.6" font-size="6.8" fill="#333" font-weight="normal" text-anchor="middle" textLength="15.0" lengthAdjust="spacingAndGlyphs">450.5</text>
<rect x="432.13" y="140.02" width="13.5" height="17.58" fill="#ba4f8f"/>
<text x="438.9" y="130.0" font-size="6.8" fill="#333" font-weight="normal" text-anchor="middle" textLength="15.0" lengthAdjust="spacingAndGlyphs">315.5</text>
<rect x="446.35" y="141.86" width="13.5" height="15.74" fill="#c8cf6b"/>
<line x1="453.1" y1="126.8" x2="453.1" y2="141.9" stroke="#333" stroke-width="0.8"/>
<text x="453.1" y="126.0" font-size="6.8" fill="#333" font-weight="normal" text-anchor="middle" textLength="15.0" lengthAdjust="spacingAndGlyphs">282.5</text>
<text x="417.5" y="167.3" font-size="7.6" fill="#333" font-weight="normal" text-anchor="middle">Joyería</text>
<line x1="466.2" y1="152" x2="466.2" y2="157.6" stroke="#444" stroke-width="1"/>
<rect x="472.00" y="135.13" width="13.5" height="22.47" fill="#e98b50"/>
<line x1="478.8" y1="126.8" x2="478.8" y2="135.1" stroke="#333" stroke-width="0.8"/>
<text x="478.8" y="126.0" font-size="6.8" fill="#333" font-weight="normal" text-anchor="middle" textLength="15.0" lengthAdjust="spacingAndGlyphs">403.1</text>
<rect x="486.22" y="133.82" width="13.5" height="23.78" fill="#aaa9d6"/>
<line x1="493.0" y1="113.8" x2="493.0" y2="133.8" stroke="#333" stroke-width="0.8"/>
<text x="493.0" y="113.0" font-size="6.8" fill="#333" font-weight="normal" text-anchor="middle" textLength="15.0" lengthAdjust="spacingAndGlyphs">426.6</text>
<rect x="500.44" y="133.93" width="13.5" height="23.67" fill="#f39c94"/>
<line x1="507.2" y1="125.5" x2="507.2" y2="133.9" stroke="#333" stroke-width="0.8"/>
<text x="507.2" y="124.7" font-size="6.8" fill="#333" font-weight="normal" text-anchor="middle" textLength="15.0" lengthAdjust="spacingAndGlyphs">424.7</text>
<rect x="514.66" y="129.38" width="13.5" height="28.22" fill="#3c8fc1"/>
<text x="521.4" y="113.0" font-size="6.8" fill="#333" font-weight="normal" text-anchor="middle" textLength="15.0" lengthAdjust="spacingAndGlyphs">506.4</text>
<rect x="528.88" y="127.97" width="13.5" height="29.63" fill="#ba4f8f"/>
<line x1="535.6" y1="124.2" x2="535.6" y2="128.0" stroke="#333" stroke-width="0.8"/>
<text x="535.6" y="123.4" font-size="6.8" fill="#333" font-weight="normal" text-anchor="middle" textLength="15.0" lengthAdjust="spacingAndGlyphs">531.7</text>
<rect x="543.10" y="125.02" width="13.5" height="32.58" fill="#c8cf6b"/>
<line x1="549.9" y1="119.0" x2="549.9" y2="125.0" stroke="#333" stroke-width="0.8"/>
<text x="549.9" y="118.2" font-size="6.8" fill="#333" font-weight="normal" text-anchor="middle" textLength="15.0" lengthAdjust="spacingAndGlyphs">584.5</text>
<text x="514.2" y="167.3" font-size="7.6" fill="#333" font-weight="normal" text-anchor="middle">Tabaco y</text>
<text x="514.2" y="173.7" font-size="7.6" fill="#333" font-weight="normal" text-anchor="middle">Derivados</text>
<line x1="563.0" y1="152" x2="563.0" y2="157.6" stroke="#444" stroke-width="1"/>
<rect x="568.75" y="146.40" width="13.5" height="11.20" fill="#e98b50"/>
<line x1="575.5" y1="132.1" x2="575.5" y2="146.4" stroke="#333" stroke-width="0.8"/>
<text x="575.5" y="131.3" font-size="6.8" fill="#333" font-weight="normal" text-anchor="middle" textLength="15.0" lengthAdjust="spacingAndGlyphs">201.0</text>
<rect x="582.97" y="140.17" width="13.5" height="17.43" fill="#aaa9d6"/>
<line x1="589.7" y1="119.0" x2="589.7" y2="140.2" stroke="#333" stroke-width="0.8"/>
<text x="589.7" y="118.2" font-size="6.8" fill="#333" font-weight="normal" text-anchor="middle" textLength="15.0" lengthAdjust="spacingAndGlyphs">312.8</text>
<rect x="597.19" y="135.91" width="13.5" height="21.69" fill="#f39c94"/>
<line x1="603.9" y1="131.5" x2="603.9" y2="135.9" stroke="#333" stroke-width="0.8"/>
<text x="603.9" y="130.7" font-size="6.8" fill="#333" font-weight="normal" text-anchor="middle" textLength="15.0" lengthAdjust="spacingAndGlyphs">389.1</text>
<rect x="611.41" y="134.94" width="13.5" height="22.66" fill="#3c8fc1"/>
<line x1="618.2" y1="119.0" x2="618.2" y2="134.9" stroke="#333" stroke-width="0.8"/>
<text x="618.2" y="118.2" font-size="6.8" fill="#333" font-weight="normal" text-anchor="middle" textLength="15.0" lengthAdjust="spacingAndGlyphs">406.5</text>
<rect x="625.63" y="134.07" width="13.5" height="23.53" fill="#ba4f8f"/>
<line x1="632.4" y1="130.0" x2="632.4" y2="134.1" stroke="#333" stroke-width="0.8"/>
<text x="632.4" y="129.2" font-size="6.8" fill="#333" font-weight="normal" text-anchor="middle" textLength="15.0" lengthAdjust="spacingAndGlyphs">422.2</text>
<rect x="639.85" y="132.36" width="13.5" height="25.24" fill="#c8cf6b"/>
<line x1="646.6" y1="124.2" x2="646.6" y2="132.4" stroke="#333" stroke-width="0.8"/>
<text x="646.6" y="123.4" font-size="6.8" fill="#333" font-weight="normal" text-anchor="middle" textLength="15.0" lengthAdjust="spacingAndGlyphs">452.8</text>
<text x="611.0" y="167.3" font-size="7.6" fill="#333" font-weight="normal" text-anchor="middle">Calzados</text>
<line x1="659.7" y1="152" x2="659.7" y2="157.6" stroke="#444" stroke-width="1"/>
<rect x="665.50" y="141.34" width="13.5" height="16.26" fill="#e98b50"/>
<line x1="672.2" y1="125.5" x2="672.2" y2="141.3" stroke="#333" stroke-width="0.8"/>
<text x="672.2" y="124.7" font-size="6.8" fill="#333" font-weight="normal" text-anchor="middle" textLength="15.0" lengthAdjust="spacingAndGlyphs">291.7</text>
<rect x="679.72" y="136.66" width="13.5" height="20.94" fill="#aaa9d6"/>
<line x1="686.5" y1="113.8" x2="686.5" y2="136.7" stroke="#333" stroke-width="0.8"/>
<text x="686.5" y="113.0" font-size="6.8" fill="#333" font-weight="normal" text-anchor="middle" textLength="15.0" lengthAdjust="spacingAndGlyphs">375.7</text>
<rect x="693.94" y="132.77" width="13.5" height="24.83" fill="#f39c94"/>
<line x1="700.7" y1="125.5" x2="700.7" y2="132.8" stroke="#333" stroke-width="0.8"/>
<text x="700.7" y="124.7" font-size="6.8" fill="#333" font-weight="normal" text-anchor="middle" textLength="15.0" lengthAdjust="spacingAndGlyphs">445.5</text>
<rect x="708.16" y="132.85" width="13.5" height="24.75" fill="#3c8fc1"/>
<line x1="714.9" y1="113.8" x2="714.9" y2="132.9" stroke="#333" stroke-width="0.8"/>
<text x="714.9" y="113.0" font-size="6.8" fill="#333" font-weight="normal" text-anchor="middle" textLength="9.0" lengthAdjust="spacingAndGlyphs">444</text>
<rect x="722.38" y="125.65" width="13.5" height="31.95" fill="#ba4f8f"/>
<text x="729.1" y="123.4" font-size="6.8" fill="#333" font-weight="normal" text-anchor="middle" textLength="15.0" lengthAdjust="spacingAndGlyphs">573.2</text>
<rect x="736.60" y="121.89" width="13.5" height="35.71" fill="#c8cf6b"/>
<line x1="743.4" y1="115.9" x2="743.4" y2="121.9" stroke="#333" stroke-width="0.8"/>
<text x="743.4" y="115.1" font-size="6.8" fill="#333" font-weight="normal" text-anchor="middle" textLength="15.0" lengthAdjust="spacingAndGlyphs">640.8</text>
<text x="707.8" y="167.3" font-size="7.6" fill="#333" font-weight="normal" text-anchor="middle">Otras</text>
<polygon points="268.5,190.5 533.0,190.5 533.0,638.4 418.0,638.4 418.0,424.0 411.7,416.9 397.7,411.0 383.6,405.2 371.9,400.5 360.2,397.0 350.8,393.4 343.8,391.0 334.4,388.7 322.7,387.6 313.3,392.2 311.0,395.8 303.9,402.9 294.5,401.6 280.5,395.8 273.4,392.2 268.5,393.4" fill="#db3446"/>
<text x="276.8" y="207.3" font-size="14" fill="#f6e4d6" font-weight="bold" text-anchor="start" textLength="205" lengthAdjust="spacingAndGlyphs" stroke="#f6e4d6" stroke-width="0.45">CIFRAS CLAVES DEL SECTOR ZONAS FRANCAS</text>
<line x1="275" y1="211.3" x2="529" y2="211.3" stroke="#f1a9a8" stroke-width="1.2"/>
<text x="276.5" y="240.4" font-size="30" fill="#f9b035" font-weight="bold" text-anchor="start" textLength="35.0" lengthAdjust="spacingAndGlyphs" stroke="#f9b035" stroke-width="0.6">629</text>
<text x="322.9" y="240.4" font-size="30" fill="#f9b035" font-weight="bold" text-anchor="start" textLength="71.10000000000002" lengthAdjust="spacingAndGlyphs" stroke="#f9b035" stroke-width="0.6">156,808</text>
<text x="403.0" y="240.4" font-size="30" fill="#f9b035" font-weight="bold" text-anchor="start" textLength="40.80000000000001" lengthAdjust="spacingAndGlyphs" stroke="#f9b035" stroke-width="0.6">34.9</text>
<text x="454.6" y="240.4" font-size="30" fill="#f9b035" font-weight="bold" text-anchor="start" textLength="69.79999999999995" lengthAdjust="spacingAndGlyphs" stroke="#f9b035" stroke-width="0.6">5,242.9</text>
<line x1="318.3" y1="217" x2="318.3" y2="288" stroke="#f1a9a8" stroke-width="0.9"/>
<line x1="399.4" y1="217" x2="399.4" y2="288" stroke="#f1a9a8" stroke-width="0.9"/>
<line x1="447.3" y1="217" x2="447.3" y2="288" stroke="#f1a9a8" stroke-width="0.9"/>
<text x="293.8" y="250.7" font-size="8.2" fill="#f7a53c" font-weight="bold" text-anchor="middle" textLength="34" lengthAdjust="spacingAndGlyphs">Empresas</text>
<text x="293.8" y="259.5" font-size="8.2" fill="#f7a53c" font-weight="bold" text-anchor="middle" textLength="36" lengthAdjust="spacingAndGlyphs">Operando</text>
<text x="293.8" y="268.4" font-size="8.2" fill="#f2b39b" font-weight="normal" text-anchor="middle" textLength="20" lengthAdjust="spacingAndGlyphs">(Julio</text>
<text x="293.8" y="277.6" font-size="8.2" fill="#f2b39b" font-weight="normal" text-anchor="middle" textLength="20" lengthAdjust="spacingAndGlyphs">2015)</text>
<text x="358.5" y="251.2" font-size="8.2" fill="#f7a53c" font-weight="bold" text-anchor="middle" textLength="68" lengthAdjust="spacingAndGlyphs">Empleos Directos</text>
<text x="358.5" y="259.8" font-size="8.2" fill="#f2b39b" font-weight="normal" text-anchor="middle" textLength="44" lengthAdjust="spacingAndGlyphs">(Junio 2015)</text>
<text x="423.4" y="250.7" font-size="8.2" fill="#f7a53c" font-weight="bold" text-anchor="middle" textLength="30" lengthAdjust="spacingAndGlyphs">Área de</text>
<text x="423.4" y="259.5" font-size="8.2" fill="#f7a53c" font-weight="bold" text-anchor="middle" textLength="25" lengthAdjust="spacingAndGlyphs">Naves</text>
<text x="423.4" y="268.4" font-size="8.2" fill="#f7a53c" font-weight="bold" text-anchor="middle" textLength="40" lengthAdjust="spacingAndGlyphs">Ocupadas</text>
<text x="423.4" y="277.6" font-size="8.2" fill="#f2b39b" font-weight="normal" text-anchor="middle" textLength="34" lengthAdjust="spacingAndGlyphs">(Millones</text>
<text x="423.4" y="286.3" font-size="8.2" fill="#f2b39b" font-weight="normal" text-anchor="middle" textLength="37" lengthAdjust="spacingAndGlyphs">P**), 2014</text>
<text x="489.5" y="250.7" font-size="8.2" fill="#f7a53c" font-weight="bold" text-anchor="middle" textLength="56" lengthAdjust="spacingAndGlyphs">Exportaciones</text>
<text x="489.5" y="259.5" font-size="8.2" fill="#f2b39b" font-weight="normal" text-anchor="middle" textLength="57" lengthAdjust="spacingAndGlyphs">(Millones US$),</text>
<text x="489.5" y="268.4" font-size="8.2" fill="#f2b39b" font-weight="normal" text-anchor="middle" textLength="18" lengthAdjust="spacingAndGlyphs">2014</text>
<line x1="274.6" y1="293.8" x2="527" y2="293.8" stroke="#f1a9a8" stroke-width="1"/>
<text x="277.3" y="322.4" font-size="31" fill="#f9b035" font-weight="bold" text-anchor="start" textLength="81.09999999999997" lengthAdjust="spacingAndGlyphs" stroke="#f9b035" stroke-width="0.6">3,794.93</text>
<text x="378.0" y="322.4" font-size="31" fill="#f9b035" font-weight="bold" text-anchor="start" textLength="27" lengthAdjust="spacingAndGlyphs" stroke="#f9b035" stroke-width="0.6">60</text>
<text x="444.0" y="322.4" font-size="31" fill="#f9b035" font-weight="bold" text-anchor="start" textLength="68.29999999999995" lengthAdjust="spacingAndGlyphs" stroke="#f9b035" stroke-width="0.6">9,447.3</text>
<line x1="365.4" y1="297" x2="365.4" y2="362" stroke="#f1a9a8" stroke-width="0.9"/>
<line x1="420.5" y1="297" x2="420.5" y2="362" stroke="#f1a9a8" stroke-width="0.9"/>
<text x="317.9" y="331.3" font-size="8.2" fill="#f7a53c" font-weight="bold" text-anchor="middle" textLength="82" lengthAdjust="spacingAndGlyphs">Inversión Acumulada</text>
<text x="317.9" y="340.6" font-size="8.2" fill="#f7a53c" font-weight="bold" text-anchor="middle" textLength="62" lengthAdjust="spacingAndGlyphs">de las Empresas</text>
<text x="317.9" y="350.0" font-size="8.2" fill="#f7a53c" font-weight="bold" text-anchor="middle" textLength="24" lengthAdjust="spacingAndGlyphs">a 2014</text>
<text x="317.9" y="359.6" font-size="8.2" fill="#f2b39b" font-weight="normal" text-anchor="middle" textLength="67" lengthAdjust="spacingAndGlyphs">(Millones de US$)</text>
<text x="392.0" y="331.3" font-size="8.2" fill="#f7a53c" font-weight="bold" text-anchor="middle" textLength="43" lengthAdjust="spacingAndGlyphs">Parques en</text>
<text x="392.0" y="340.6" font-size="8.2" fill="#f7a53c" font-weight="bold" text-anchor="middle" textLength="40" lengthAdjust="spacingAndGlyphs">Operación</text>
<text x="478.0" y="331.0" font-size="8.2" fill="#f7a53c" font-weight="bold" text-anchor="middle" textLength="95" lengthAdjust="spacingAndGlyphs">Pagos por Sevicios 2014:</text>
<text x="478.0" y="340.6" font-size="8.2" fill="#f2b39b" font-weight="normal" text-anchor="middle" textLength="87" lengthAdjust="spacingAndGlyphs">TSS, Electricidad, Agua,</text>
<text x="478.0" y="350.0" font-size="8.2" fill="#f2b39b" font-weight="normal" text-anchor="middle" textLength="100" lengthAdjust="spacingAndGlyphs">INFOTEP, Comunicaciones</text>
<text x="478.0" y="359.6" font-size="8.2" fill="#f2b39b" font-weight="normal" text-anchor="middle" textLength="55" lengthAdjust="spacingAndGlyphs">(Millones RD$)</text>
<line x1="274.6" y1="366.2" x2="527" y2="366.2" stroke="#f1a9a8" stroke-width="1"/>
<text x="421.4" y="385.6" font-size="12.6" fill="#f6e4d6" font-weight="bold" text-anchor="start" textLength="70" lengthAdjust="spacingAndGlyphs" stroke="#f6e4d6" stroke-width="0.4">RANKING EN LAS</text>
<text x="421.4" y="397.3" font-size="12.6" fill="#f6e4d6" font-weight="bold" text-anchor="start" textLength="75" lengthAdjust="spacingAndGlyphs" stroke="#f6e4d6" stroke-width="0.4">EXPORTACIONES</text>
<text x="421.4" y="409.0" font-size="12.6" fill="#f6e4d6" font-weight="bold" text-anchor="start" textLength="65" lengthAdjust="spacingAndGlyphs" stroke="#f6e4d6" stroke-width="0.4">MUNDIALES Y</text>
<text x="421.4" y="420.7" font-size="12.6" fill="#f6e4d6" font-weight="bold" text-anchor="start" textLength="88" lengthAdjust="spacingAndGlyphs" stroke="#f6e4d6" stroke-width="0.4">HACIA EE.UU. (2014)</text>
<line x1="421" y1="424.4" x2="527" y2="424.4" stroke="#f08a55" stroke-width="0.9"/>
<text x="421.0" y="435.9" font-size="8.6" fill="#f8e6df" font-weight="bold" text-anchor="start" textLength="98" lengthAdjust="spacingAndGlyphs">1er. Exportador Mundial de Cigarros.</text>
<line x1="421" y1="439.2" x2="527" y2="439.2" stroke="#ee7f5a" stroke-width="0.8"/>
<text x="421.0" y="449.5" font-size="8.6" fill="#f8e6df" font-weight="bold" text-anchor="start" textLength="100" lengthAdjust="spacingAndGlyphs">1er. Exportador de Aplicaciones para</text>
<text x="421.0" y="463.2" font-size="8.6" fill="#f8e6df" font-weight="bold" text-anchor="start" textLength="66" lengthAdjust="spacingAndGlyphs">Ostomía hacia los EE.UU.</text>
<line x1="421" y1="466.5" x2="527" y2="466.5" stroke="#ee7f5a" stroke-width="0.8"/>
<text x="421.0" y="476.8" font-size="8.6" fill="#f8e6df" font-weight="bold" text-anchor="start" textLength="104" lengthAdjust="spacingAndGlyphs">1er. Exportador de Tejidos de Punto de</text>
<text x="421.0" y="490.5" font-size="8.6" fill="#f8e6df" font-weight="bold" text-anchor="start" textLength="55" lengthAdjust="spacingAndGlyphs">Algodón hacia Haití.</text>
<line x1="421" y1="493.8" x2="527" y2="493.8" stroke="#ee7f5a" stroke-width="0.8"/>
<text x="421.0" y="504.1" font-size="8.6" fill="#f8e6df" font-weight="bold" text-anchor="start" textLength="90" lengthAdjust="spacingAndGlyphs">2do. Exportador de Interruptores</text>
<text x="421.0" y="517.8" font-size="8.6" fill="#f8e6df" font-weight="bold" text-anchor="start" textLength="71" lengthAdjust="spacingAndGlyphs">Eléctricos hacia los EE.UU.</text>
<line x1="421" y1="521.1" x2="527" y2="521.1" stroke="#ee7f5a" stroke-width="0.8"/>
<text x="421.0" y="531.4" font-size="8.6" fill="#f8e6df" font-weight="bold" text-anchor="start" textLength="92" lengthAdjust="spacingAndGlyphs">2do. Exportador de Hilos Dentales</text>
<text x="421.0" y="545.1" font-size="8.6" fill="#f8e6df" font-weight="bold" text-anchor="start" textLength="43" lengthAdjust="spacingAndGlyphs">hacia los EE.UU.</text>
<line x1="421" y1="548.4" x2="527" y2="548.4" stroke="#ee7f5a" stroke-width="0.8"/>
<text x="421.0" y="558.7" font-size="8.6" fill="#f8e6df" font-weight="bold" text-anchor="start" textLength="96" lengthAdjust="spacingAndGlyphs">3er. Exportador de Abrigos de Lana</text>
<text x="421.0" y="572.4" font-size="8.6" fill="#f8e6df" font-weight="bold" text-anchor="start" textLength="78" lengthAdjust="spacingAndGlyphs">para Mujeres hacia los EE.UU.</text>
<line x1="421" y1="575.7" x2="527" y2="575.7" stroke="#ee7f5a" stroke-width="0.8"/>
<text x="421.0" y="586.0" font-size="8.6" fill="#f8e6df" font-weight="bold" text-anchor="start" textLength="98" lengthAdjust="spacingAndGlyphs">4to. Exportador de Instrumentos de</text>
<text x="421.0" y="599.7" font-size="8.6" fill="#f8e6df" font-weight="bold" text-anchor="start" textLength="94" lengthAdjust="spacingAndGlyphs">Medicina y Cirugía hacia los EE.UU.</text>
<line x1="421" y1="603.0" x2="527" y2="603.0" stroke="#ee7f5a" stroke-width="0.8"/>
<text x="421.0" y="613.3" font-size="8.6" fill="#f8e6df" font-weight="bold" text-anchor="start" textLength="89" lengthAdjust="spacingAndGlyphs">5to. Exportador de Calzados para</text>
<text x="421.0" y="627.0" font-size="8.6" fill="#f8e6df" font-weight="bold" text-anchor="start" textLength="68" lengthAdjust="spacingAndGlyphs">Hombres hacia los EE.UU.</text>
<text x="532.0" y="644.7" font-size="6.3" fill="#444" font-weight="normal" text-anchor="end" textLength="52" lengthAdjust="spacingAndGlyphs">*PIES CUADRADOS.</text>
<line x1="542.8" y1="189" x2="542.8" y2="749" stroke="#5a5a5a" stroke-width="1"/>
<text x="554.2" y="200.2" font-size="14.2" fill="#6a89b4" font-weight="bold" text-anchor="start" textLength="117.4" lengthAdjust="spacingAndGlyphs" stroke="#6a89b4" stroke-width="0.5">PRINCIPALES VARIABLES</text>
<text x="554.2" y="211.5" font-size="9" fill="#2b2b2b" font-weight="normal" text-anchor="start" textLength="41" lengthAdjust="spacingAndGlyphs">2009-2014</text>
<text x="554.2" y="224.3" font-size="9.2" fill="#b8323a" font-weight="bold" text-anchor="start" textLength="79" lengthAdjust="spacingAndGlyphs" stroke="#b8323a" stroke-width="0.3">PARQUES EXISTENTES</text>
<line x1="565.4" y1="232.9" x2="565.4" y2="270.7" stroke="#444" stroke-width="1"/>
<line x1="565.4" y1="270.7" x2="750" y2="270.7" stroke="#444" stroke-width="1"/>
<line x1="565.4" y1="232.9" x2="569.5" y2="232.9" stroke="#444" stroke-width="0.9"/>
<text x="563.0" y="235.4" font-size="7" fill="#333" font-weight="bold" text-anchor="end" textLength="7.0" lengthAdjust="spacingAndGlyphs">60</text>
<line x1="565.4" y1="251.6" x2="569.5" y2="251.6" stroke="#444" stroke-width="0.9"/>
<text x="563.0" y="254.1" font-size="7" fill="#333" font-weight="bold" text-anchor="end" textLength="7.0" lengthAdjust="spacingAndGlyphs">50</text>
<line x1="565.4" y1="270.6" x2="569.5" y2="270.6" stroke="#444" stroke-width="0.9"/>
<text x="563.0" y="273.1" font-size="7" fill="#333" font-weight="bold" text-anchor="end" textLength="7.0" lengthAdjust="spacingAndGlyphs">40</text>
<polygon points="576.5,270.7 576.5,257.5 608.0,255.6 639.6,249.9 671.1,246.1 702.7,242.4 734.2,232.9 734.2,270.7" fill="#c41e26"/>
<line x1="576.5" y1="252.3" x2="576.5" y2="257.5" stroke="#444" stroke-width="0.8"/>
<text x="576.5" y="251.7" font-size="6.8" fill="#444" font-weight="normal" text-anchor="middle" textLength="6.0" lengthAdjust="spacingAndGlyphs">47</text>
<text x="580.8" y="277.4" font-size="7" fill="#222" font-weight="bold" text-anchor="middle" textLength="15.5" lengthAdjust="spacingAndGlyphs">2009</text>
<line x1="608.0" y1="251.4" x2="608.0" y2="255.6" stroke="#444" stroke-width="0.8"/>
<text x="608.0" y="250.8" font-size="6.8" fill="#444" font-weight="normal" text-anchor="middle" textLength="6.0" lengthAdjust="spacingAndGlyphs">48</text>
<text x="611.5" y="277.4" font-size="7" fill="#222" font-weight="bold" text-anchor="middle" textLength="15.5" lengthAdjust="spacingAndGlyphs">2010</text>
<line x1="639.6" y1="245.9" x2="639.6" y2="249.9" stroke="#444" stroke-width="0.8"/>
<text x="639.6" y="245.3" font-size="6.8" fill="#444" font-weight="normal" text-anchor="middle" textLength="6.0" lengthAdjust="spacingAndGlyphs">51</text>
<text x="642.3" y="277.4" font-size="7" fill="#222" font-weight="bold" text-anchor="middle" textLength="15.5" lengthAdjust="spacingAndGlyphs">2011</text>
<line x1="671.1" y1="241.3" x2="671.1" y2="246.1" stroke="#444" stroke-width="0.8"/>
<text x="671.1" y="240.7" font-size="6.8" fill="#444" font-weight="normal" text-anchor="middle" textLength="6.0" lengthAdjust="spacingAndGlyphs">53</text>
<text x="673.0" y="277.4" font-size="7" fill="#222" font-weight="bold" text-anchor="middle" textLength="15.5" lengthAdjust="spacingAndGlyphs">2012</text>
<line x1="702.7" y1="238.0" x2="702.7" y2="242.4" stroke="#444" stroke-width="0.8"/>
<text x="702.7" y="237.4" font-size="6.8" fill="#444" font-weight="normal" text-anchor="middle" textLength="6.0" lengthAdjust="spacingAndGlyphs">55</text>
<text x="703.8" y="277.4" font-size="7" fill="#222" font-weight="bold" text-anchor="middle" textLength="15.5" lengthAdjust="spacingAndGlyphs">2013</text>
<line x1="734.2" y1="229.7" x2="734.2" y2="232.9" stroke="#444" stroke-width="0.8"/>
<text x="734.2" y="229.1" font-size="6.8" fill="#444" font-weight="normal" text-anchor="middle" textLength="6.0" lengthAdjust="spacingAndGlyphs">60</text>
<text x="736.0" y="277.4" font-size="7" fill="#222" font-weight="bold" text-anchor="middle" textLength="19" lengthAdjust="spacingAndGlyphs">2014*</text>
<text x="554.2" y="291.9" font-size="9.2" fill="#b8323a" font-weight="bold" text-anchor="start" textLength="38" lengthAdjust="spacingAndGlyphs" stroke="#b8323a" stroke-width="0.3">EMPRESAS</text>
<line x1="565.4" y1="300.4" x2="565.4" y2="335.6" stroke="#444" stroke-width="1"/>
<line x1="565.4" y1="335.6" x2="750" y2="335.6" stroke="#444" stroke-width="1"/>
<line x1="565.4" y1="300.4" x2="569.5" y2="300.4" stroke="#444" stroke-width="0.9"/>
<text x="563.0" y="302.9" font-size="7" fill="#333" font-weight="bold" text-anchor="end" textLength="10.5" lengthAdjust="spacingAndGlyphs">700</text>
<line x1="565.4" y1="317.6" x2="569.5" y2="317.6" stroke="#444" stroke-width="0.9"/>
<text x="563.0" y="320.1" font-size="7" fill="#333" font-weight="bold" text-anchor="end" textLength="10.5" lengthAdjust="spacingAndGlyphs">500</text>
<line x1="565.4" y1="335.6" x2="569.5" y2="335.6" stroke="#444" stroke-width="0.9"/>
<text x="563.0" y="338.1" font-size="7" fill="#333" font-weight="bold" text-anchor="end" textLength="10.5" lengthAdjust="spacingAndGlyphs">400</text>
<polygon points="580.8,335.6 580.8,326.6 611.5,325.5 642.3,321.9 673.0,320.8 703.8,317.4 734.5,315.1 734.5,335.6" fill="#c41e26"/>
<line x1="580.8" y1="322.7" x2="580.8" y2="326.6" stroke="#444" stroke-width="0.8"/>
<text x="580.8" y="322.1" font-size="6.8" fill="#444" font-weight="normal" text-anchor="middle" textLength="9.0" lengthAdjust="spacingAndGlyphs">553</text>
<text x="580.8" y="342.3" font-size="7" fill="#222" font-weight="bold" text-anchor="middle" textLength="15.5" lengthAdjust="spacingAndGlyphs">2009</text>
<line x1="611.5" y1="324.1" x2="611.5" y2="325.5" stroke="#444" stroke-width="0.8"/>
<text x="611.5" y="323.5" font-size="6.8" fill="#444" font-weight="normal" text-anchor="middle" textLength="9.0" lengthAdjust="spacingAndGlyphs">555</text>
<text x="611.5" y="342.3" font-size="7" fill="#222" font-weight="bold" text-anchor="middle" textLength="15.5" lengthAdjust="spacingAndGlyphs">2010</text>
<line x1="642.3" y1="319.0" x2="642.3" y2="321.9" stroke="#444" stroke-width="0.8"/>
<text x="642.3" y="318.4" font-size="6.8" fill="#444" font-weight="normal" text-anchor="middle" textLength="9.0" lengthAdjust="spacingAndGlyphs">578</text>
<text x="642.3" y="342.3" font-size="7" fill="#222" font-weight="bold" text-anchor="middle" textLength="15.5" lengthAdjust="spacingAndGlyphs">2011</text>
<line x1="673.0" y1="317.2" x2="673.0" y2="320.8" stroke="#444" stroke-width="0.8"/>
<text x="673.0" y="316.6" font-size="6.8" fill="#444" font-weight="normal" text-anchor="middle" textLength="9.0" lengthAdjust="spacingAndGlyphs">584</text>
<text x="673.0" y="342.3" font-size="7" fill="#222" font-weight="bold" text-anchor="middle" textLength="15.5" lengthAdjust="spacingAndGlyphs">2012</text>
<line x1="703.8" y1="314.2" x2="703.8" y2="317.4" stroke="#444" stroke-width="0.8"/>
<text x="703.8" y="313.6" font-size="6.8" fill="#444" font-weight="normal" text-anchor="middle" textLength="9.0" lengthAdjust="spacingAndGlyphs">602</text>
<text x="703.8" y="342.3" font-size="7" fill="#222" font-weight="bold" text-anchor="middle" textLength="15.5" lengthAdjust="spacingAndGlyphs">2013</text>
<line x1="734.5" y1="312.2" x2="734.5" y2="315.1" stroke="#444" stroke-width="0.8"/>
<text x="734.5" y="311.6" font-size="6.8" fill="#444" font-weight="normal" text-anchor="middle" textLength="9.0" lengthAdjust="spacingAndGlyphs">614</text>
<text x="736.0" y="342.3" font-size="7" fill="#222" font-weight="bold" text-anchor="middle" textLength="19" lengthAdjust="spacingAndGlyphs">2014*</text>
<text x="554.2" y="356.1" font-size="9.2" fill="#b8323a" font-weight="bold" text-anchor="start" textLength="33" lengthAdjust="spacingAndGlyphs" stroke="#b8323a" stroke-width="0.3">EMPLEOS</text>
<line x1="565.4" y1="364.6" x2="565.4" y2="417.7" stroke="#444" stroke-width="1"/>
<line x1="565.4" y1="417.7" x2="750" y2="417.7" stroke="#444" stroke-width="1"/>
<line x1="565.4" y1="364.6" x2="569.5" y2="364.6" stroke="#444" stroke-width="0.9"/>
<text x="563.0" y="367.1" font-size="7" fill="#333" font-weight="bold" text-anchor="end" textLength="7.0" lengthAdjust="spacingAndGlyphs">20</text>
<line x1="565.4" y1="390.5" x2="569.5" y2="390.5" stroke="#444" stroke-width="0.9"/>
<text x="563.0" y="393.0" font-size="7" fill="#333" font-weight="bold" text-anchor="end" textLength="7.0" lengthAdjust="spacingAndGlyphs">15</text>
<line x1="565.4" y1="417.7" x2="569.5" y2="417.7" stroke="#444" stroke-width="0.9"/>
<text x="563.0" y="420.2" font-size="7" fill="#333" font-weight="bold" text-anchor="end" textLength="7.0" lengthAdjust="spacingAndGlyphs">10</text>
<polygon points="580.8,417.7 580.8,411.3 611.5,406.5 642.3,404.1 673.0,398.8 703.8,393.0 734.5,387.8 734.5,417.7" fill="#c41e26"/>
<line x1="580.8" y1="403.9" x2="580.8" y2="411.3" stroke="#444" stroke-width="0.8"/>
<text x="580.8" y="403.3" font-size="6.8" fill="#444" font-weight="normal" text-anchor="middle" textLength="21.0" lengthAdjust="spacingAndGlyphs">112,608</text>
<text x="580.8" y="424.4" font-size="7" fill="#222" font-weight="bold" text-anchor="middle" textLength="15.5" lengthAdjust="spacingAndGlyphs">2009</text>
<line x1="611.5" y1="400.4" x2="611.5" y2="406.5" stroke="#444" stroke-width="0.8"/>
<text x="611.5" y="399.8" font-size="6.8" fill="#444" font-weight="normal" text-anchor="middle" textLength="21.0" lengthAdjust="spacingAndGlyphs">121,001</text>
<text x="611.5" y="424.4" font-size="7" fill="#222" font-weight="bold" text-anchor="middle" textLength="15.5" lengthAdjust="spacingAndGlyphs">2010</text>
<line x1="642.3" y1="398.3" x2="642.3" y2="404.1" stroke="#444" stroke-width="0.8"/>
<text x="642.3" y="397.7" font-size="6.8" fill="#444" font-weight="normal" text-anchor="middle" textLength="21.0" lengthAdjust="spacingAndGlyphs">125,117</text>
<text x="642.3" y="424.4" font-size="7" fill="#222" font-weight="bold" text-anchor="middle" textLength="15.5" lengthAdjust="spacingAndGlyphs">2011</text>
<line x1="673.0" y1="393.8" x2="673.0" y2="398.8" stroke="#444" stroke-width="0.8"/>
<text x="673.0" y="393.2" font-size="6.8" fill="#444" font-weight="normal" text-anchor="middle" textLength="21.0" lengthAdjust="spacingAndGlyphs">134,226</text>
<text x="673.0" y="424.4" font-size="7" fill="#222" font-weight="bold" text-anchor="middle" textLength="15.5" lengthAdjust="spacingAndGlyphs">2012</text>
<line x1="703.8" y1="387.9" x2="703.8" y2="393.0" stroke="#444" stroke-width="0.8"/>
<text x="703.8" y="387.3" font-size="6.8" fill="#444" font-weight="normal" text-anchor="middle" textLength="21.0" lengthAdjust="spacingAndGlyphs">144,383</text>
<text x="703.8" y="424.4" font-size="7" fill="#222" font-weight="bold" text-anchor="middle" textLength="15.5" lengthAdjust="spacingAndGlyphs">2013</text>
<line x1="734.5" y1="383.4" x2="734.5" y2="387.8" stroke="#444" stroke-width="0.8"/>
<text x="734.5" y="382.8" font-size="6.8" fill="#444" font-weight="normal" text-anchor="middle" textLength="21.0" lengthAdjust="spacingAndGlyphs">153,342</text>
<text x="736.0" y="424.4" font-size="7" fill="#222" font-weight="bold" text-anchor="middle" textLength="19" lengthAdjust="spacingAndGlyphs">2014*</text>
<text x="554.2" y="438.5" font-size="9.2" fill="#b8323a" font-weight="bold" text-anchor="start" textLength="59" lengthAdjust="spacingAndGlyphs" stroke="#b8323a" stroke-width="0.3">EXPORTACIONES</text>
<text x="613.2" y="438.5" font-size="9.2" fill="#c9777c" font-weight="normal" text-anchor="start" textLength="58" lengthAdjust="spacingAndGlyphs"> (MILLONES US$)</text>
<line x1="565.4" y1="445" x2="565.4" y2="498.2" stroke="#444" stroke-width="1"/>
<line x1="565.4" y1="498.2" x2="750" y2="498.2" stroke="#444" stroke-width="1"/>
<line x1="565.4" y1="445" x2="569.5" y2="445" stroke="#444" stroke-width="0.9"/>
<text x="563.0" y="447.5" font-size="7" fill="#333" font-weight="bold" text-anchor="end" textLength="7.0" lengthAdjust="spacingAndGlyphs">20</text>
<line x1="565.4" y1="471.8" x2="569.5" y2="471.8" stroke="#444" stroke-width="0.9"/>
<text x="563.0" y="474.3" font-size="7" fill="#333" font-weight="bold" text-anchor="end" textLength="7.0" lengthAdjust="spacingAndGlyphs">15</text>
<line x1="565.4" y1="498.2" x2="569.5" y2="498.2" stroke="#444" stroke-width="0.9"/>
<text x="563.0" y="500.7" font-size="7" fill="#333" font-weight="bold" text-anchor="end" textLength="7.0" lengthAdjust="spacingAndGlyphs">10</text>
<polygon points="580.8,498.2 580.8,491.6 611.5,486.6 642.3,484.8 673.0,479.8 703.8,475.3 734.5,469.4 734.5,498.2" fill="#c41e26"/>
<line x1="580.8" y1="485.7" x2="580.8" y2="491.6" stroke="#444" stroke-width="0.8"/>
<text x="580.8" y="485.1" font-size="6.8" fill="#444" font-weight="normal" text-anchor="middle" textLength="21.0" lengthAdjust="spacingAndGlyphs">3,793.5</text>
<text x="580.8" y="504.9" font-size="7" fill="#222" font-weight="bold" text-anchor="middle" textLength="15.5" lengthAdjust="spacingAndGlyphs">2009</text>
<line x1="611.5" y1="483.4" x2="611.5" y2="486.6" stroke="#444" stroke-width="0.8"/>
<text x="611.5" y="482.8" font-size="6.8" fill="#444" font-weight="normal" text-anchor="middle" textLength="21.0" lengthAdjust="spacingAndGlyphs">4,217.6</text>
<text x="611.5" y="504.9" font-size="7" fill="#222" font-weight="bold" text-anchor="middle" textLength="15.5" lengthAdjust="spacingAndGlyphs">2010</text>
<line x1="642.3" y1="481.3" x2="642.3" y2="484.8" stroke="#444" stroke-width="0.8"/>
<text x="642.3" y="480.7" font-size="6.8" fill="#444" font-weight="normal" text-anchor="middle" textLength="21.0" lengthAdjust="spacingAndGlyphs">4,884.5</text>
<text x="642.3" y="504.9" font-size="7" fill="#222" font-weight="bold" text-anchor="middle" textLength="15.5" lengthAdjust="spacingAndGlyphs">2011</text>
<line x1="673.0" y1="476.2" x2="673.0" y2="479.8" stroke="#444" stroke-width="0.8"/>
<text x="673.0" y="475.6" font-size="6.8" fill="#444" font-weight="normal" text-anchor="middle" textLength="21.0" lengthAdjust="spacingAndGlyphs">4,940.1</text>
<text x="673.0" y="504.9" font-size="7" fill="#222" font-weight="bold" text-anchor="middle" textLength="15.5" lengthAdjust="spacingAndGlyphs">2012</text>
<line x1="703.8" y1="470.3" x2="703.8" y2="475.3" stroke="#444" stroke-width="0.8"/>
<text x="703.8" y="469.7" font-size="6.8" fill="#444" font-weight="normal" text-anchor="middle" textLength="24.0" lengthAdjust="spacingAndGlyphs">4,950.49</text>
<text x="703.8" y="504.9" font-size="7" fill="#222" font-weight="bold" text-anchor="middle" textLength="15.5" lengthAdjust="spacingAndGlyphs">2013</text>
<line x1="734.5" y1="467.3" x2="734.5" y2="469.4" stroke="#444" stroke-width="0.8"/>
<text x="734.5" y="466.7" font-size="6.8" fill="#444" font-weight="normal" text-anchor="middle" textLength="21.0" lengthAdjust="spacingAndGlyphs">5,242.9</text>
<text x="736.0" y="504.9" font-size="7" fill="#222" font-weight="bold" text-anchor="middle" textLength="19" lengthAdjust="spacingAndGlyphs">2014*</text>
<text x="554.2" y="519.3" font-size="9.2" fill="#b8323a" font-weight="bold" text-anchor="start" textLength="32" lengthAdjust="spacingAndGlyphs" stroke="#b8323a" stroke-width="0.3">DIVISAS</text>
<text x="586.2" y="519.3" font-size="9.2" fill="#c9777c" font-weight="normal" text-anchor="start" textLength="58" lengthAdjust="spacingAndGlyphs"> (MILLONES US$)</text>
<line x1="565.4" y1="525.8" x2="565.4" y2="575.4" stroke="#444" stroke-width="1"/>
<line x1="565.4" y1="575.4" x2="750" y2="575.4" stroke="#444" stroke-width="1"/>
<line x1="565.4" y1="525.8" x2="569.5" y2="525.8" stroke="#444" stroke-width="0.9"/>
<text x="563.0" y="528.3" font-size="7" fill="#333" font-weight="bold" text-anchor="end" textLength="14.0" lengthAdjust="spacingAndGlyphs">1500</text>
<line x1="565.4" y1="551" x2="569.5" y2="551" stroke="#444" stroke-width="0.9"/>
<text x="563.0" y="553.5" font-size="7" fill="#333" font-weight="bold" text-anchor="end" textLength="14.0" lengthAdjust="spacingAndGlyphs">1200</text>
<line x1="565.4" y1="575.4" x2="569.5" y2="575.4" stroke="#444" stroke-width="0.9"/>
<text x="563.0" y="577.9" font-size="7" fill="#333" font-weight="bold" text-anchor="end" textLength="10.5" lengthAdjust="spacingAndGlyphs">900</text>
<polygon points="580.8,575.4 580.8,570.3 611.5,557.0 642.3,554.0 673.0,542.7 703.8,540.6 734.5,537.0 734.5,575.4" fill="#c41e26"/>
<line x1="580.8" y1="565.9" x2="580.8" y2="570.3" stroke="#444" stroke-width="0.8"/>
<text x="580.8" y="565.3" font-size="6.8" fill="#444" font-weight="normal" text-anchor="middle" textLength="9.0" lengthAdjust="spacingAndGlyphs">959</text>
<text x="580.8" y="582.1" font-size="7" fill="#222" font-weight="bold" text-anchor="middle" textLength="15.5" lengthAdjust="spacingAndGlyphs">2009</text>
<line x1="611.5" y1="551.7" x2="611.5" y2="557.0" stroke="#444" stroke-width="0.8"/>
<text x="611.5" y="551.1" font-size="6.8" fill="#444" font-weight="normal" text-anchor="middle" textLength="24.0" lengthAdjust="spacingAndGlyphs">1,123.05</text>
<text x="611.5" y="582.1" font-size="7" fill="#222" font-weight="bold" text-anchor="middle" textLength="15.5" lengthAdjust="spacingAndGlyphs">2010</text>
<line x1="642.3" y1="548.1" x2="642.3" y2="554.0" stroke="#444" stroke-width="0.8"/>
<text x="642.3" y="547.5" font-size="6.8" fill="#444" font-weight="normal" text-anchor="middle" textLength="24.0" lengthAdjust="spacingAndGlyphs">1,163.50</text>
<text x="642.3" y="582.1" font-size="7" fill="#222" font-weight="bold" text-anchor="middle" textLength="15.5" lengthAdjust="spacingAndGlyphs">2011</text>
<line x1="673.0" y1="538.3" x2="673.0" y2="542.7" stroke="#444" stroke-width="0.8"/>
<text x="673.0" y="537.7" font-size="6.8" fill="#444" font-weight="normal" text-anchor="middle" textLength="24.0" lengthAdjust="spacingAndGlyphs">1,299.20</text>
<text x="673.0" y="582.1" font-size="7" fill="#222" font-weight="bold" text-anchor="middle" textLength="15.5" lengthAdjust="spacingAndGlyphs">2012</text>
<line x1="703.8" y1="534.7" x2="703.8" y2="540.6" stroke="#444" stroke-width="0.8"/>
<text x="703.8" y="534.1" font-size="6.8" fill="#444" font-weight="normal" text-anchor="middle" textLength="24.0" lengthAdjust="spacingAndGlyphs">1,326.00</text>
<text x="703.8" y="582.1" font-size="7" fill="#222" font-weight="bold" text-anchor="middle" textLength="15.5" lengthAdjust="spacingAndGlyphs">2013</text>
<line x1="734.5" y1="531.8" x2="734.5" y2="537.0" stroke="#444" stroke-width="0.8"/>
<text x="734.5" y="531.2" font-size="6.8" fill="#444" font-weight="normal" text-anchor="middle" textLength="24.0" lengthAdjust="spacingAndGlyphs">1,368.10</text>
<text x="736.0" y="582.1" font-size="7" fill="#222" font-weight="bold" text-anchor="middle" textLength="19" lengthAdjust="spacingAndGlyphs">2014*</text>
<text x="554.2" y="595.9" font-size="9.2" fill="#b8323a" font-weight="bold" text-anchor="start" textLength="97" lengthAdjust="spacingAndGlyphs" stroke="#b8323a" stroke-width="0.3">EXTENSIÓN NAVES EN USO</text>
<text x="651.2" y="595.9" font-size="9.2" fill="#c9777c" font-weight="normal" text-anchor="start" textLength="67" lengthAdjust="spacingAndGlyphs"> (PIES CUADRADOS)</text>
<line x1="565.4" y1="603" x2="565.4" y2="652.0" stroke="#444" stroke-width="1"/>
<line x1="565.4" y1="652.0" x2="750" y2="652.0" stroke="#444" stroke-width="1"/>
<line x1="565.4" y1="603" x2="569.5" y2="603" stroke="#444" stroke-width="0.9"/>
<text x="563.0" y="605.5" font-size="7" fill="#333" font-weight="bold" text-anchor="end" textLength="7.0" lengthAdjust="spacingAndGlyphs">35</text>
<line x1="565.4" y1="627.3" x2="569.5" y2="627.3" stroke="#444" stroke-width="0.9"/>
<text x="563.0" y="629.8" font-size="7" fill="#333" font-weight="bold" text-anchor="end" textLength="7.0" lengthAdjust="spacingAndGlyphs">30</text>
<line x1="565.4" y1="652" x2="569.5" y2="652" stroke="#444" stroke-width="0.9"/>
<text x="563.0" y="654.5" font-size="7" fill="#333" font-weight="bold" text-anchor="end" textLength="7.0" lengthAdjust="spacingAndGlyphs">25</text>
<polygon points="580.8,652.0 580.8,633.4 611.5,633.0 642.3,629.0 673.0,627.5 703.8,609.5 734.5,604.5 734.5,652.0" fill="#c41e26"/>
<line x1="580.8" y1="624.6" x2="580.8" y2="633.4" stroke="#444" stroke-width="0.8"/>
<text x="580.8" y="624.0" font-size="6.8" fill="#444" font-weight="normal" text-anchor="middle" textLength="30.0" lengthAdjust="spacingAndGlyphs">29,037,744</text>
<text x="580.8" y="658.7" font-size="7" fill="#222" font-weight="bold" text-anchor="middle" textLength="15.5" lengthAdjust="spacingAndGlyphs">2009</text>
<line x1="611.5" y1="629.0" x2="611.5" y2="633.0" stroke="#444" stroke-width="0.8"/>
<text x="611.5" y="628.4" font-size="6.8" fill="#444" font-weight="normal" text-anchor="middle" textLength="30.0" lengthAdjust="spacingAndGlyphs">29,268,270</text>
<text x="611.5" y="658.7" font-size="7" fill="#222" font-weight="bold" text-anchor="middle" textLength="15.5" lengthAdjust="spacingAndGlyphs">2010</text>
<line x1="642.3" y1="620.0" x2="642.3" y2="629.0" stroke="#444" stroke-width="0.8"/>
<text x="642.3" y="619.4" font-size="6.8" fill="#444" font-weight="normal" text-anchor="middle" textLength="30.0" lengthAdjust="spacingAndGlyphs">30,067,075</text>
<text x="642.3" y="658.7" font-size="7" fill="#222" font-weight="bold" text-anchor="middle" textLength="15.5" lengthAdjust="spacingAndGlyphs">2011</text>
<line x1="673.0" y1="612.7" x2="673.0" y2="627.5" stroke="#444" stroke-width="0.8"/>
<text x="673.0" y="612.1" font-size="6.8" fill="#444" font-weight="normal" text-anchor="middle" textLength="30.0" lengthAdjust="spacingAndGlyphs">30,385,854</text>
<text x="673.0" y="658.7" font-size="7" fill="#222" font-weight="bold" text-anchor="middle" textLength="15.5" lengthAdjust="spacingAndGlyphs">2012</text>
<line x1="703.8" y1="606.2" x2="703.8" y2="609.5" stroke="#444" stroke-width="0.8"/>
<text x="703.8" y="605.6" font-size="6.8" fill="#444" font-weight="normal" text-anchor="middle" textLength="30.0" lengthAdjust="spacingAndGlyphs">33,804,830</text>
<text x="703.8" y="658.7" font-size="7" fill="#222" font-weight="bold" text-anchor="middle" textLength="15.5" lengthAdjust="spacingAndGlyphs">2013</text>
<line x1="734.5" y1="600.8" x2="734.5" y2="604.5" stroke="#444" stroke-width="0.8"/>
<text x="734.5" y="600.2" font-size="6.8" fill="#444" font-weight="normal" text-anchor="middle" textLength="30.0" lengthAdjust="spacingAndGlyphs">34,899,477</text>
<text x="736.0" y="658.7" font-size="7" fill="#222" font-weight="bold" text-anchor="middle" textLength="19" lengthAdjust="spacingAndGlyphs">2014*</text>
<text x="554.2" y="672.9" font-size="9.2" fill="#b8323a" font-weight="bold" text-anchor="start" textLength="98" lengthAdjust="spacingAndGlyphs" stroke="#b8323a" stroke-width="0.3">EXPORTACIONES TEXTILES</text>
<text x="652.2" y="672.9" font-size="9.2" fill="#c9777c" font-weight="normal" text-anchor="start" textLength="58" lengthAdjust="spacingAndGlyphs"> (MILLONES US$)</text>
<line x1="565.4" y1="679.4" x2="565.4" y2="732.8" stroke="#444" stroke-width="1"/>
<line x1="565.4" y1="732.8" x2="750" y2="732.8" stroke="#444" stroke-width="1"/>
<line x1="565.4" y1="679.4" x2="569.5" y2="679.4" stroke="#444" stroke-width="0.9"/>
<text x="563.0" y="681.9" font-size="7" fill="#333" font-weight="bold" text-anchor="end" textLength="14.0" lengthAdjust="spacingAndGlyphs">1500</text>
<line x1="565.4" y1="706.1" x2="569.5" y2="706.1" stroke="#444" stroke-width="0.9"/>
<text x="563.0" y="708.6" font-size="7" fill="#333" font-weight="bold" text-anchor="end" textLength="14.0" lengthAdjust="spacingAndGlyphs">1200</text>
<line x1="565.4" y1="732.8" x2="569.5" y2="732.8" stroke="#444" stroke-width="0.9"/>
<text x="563.0" y="735.3" font-size="7" fill="#333" font-weight="bold" text-anchor="end" textLength="10.5" lengthAdjust="spacingAndGlyphs">900</text>
<polygon points="580.8,732.8 580.8,730.4 611.5,727.5 642.3,697.8 673.0,699.6 703.8,705.2 734.5,702.2 734.5,732.8" fill="#c41e26"/>
<line x1="580.8" y1="721.1" x2="580.8" y2="730.4" stroke="#444" stroke-width="0.8"/>
<text x="580.8" y="720.5" font-size="6.8" fill="#444" font-weight="normal" text-anchor="middle" textLength="15.0" lengthAdjust="spacingAndGlyphs">913.5</text>
<text x="580.8" y="739.5" font-size="7" fill="#222" font-weight="bold" text-anchor="middle" textLength="15.5" lengthAdjust="spacingAndGlyphs">2009</text>
<line x1="611.5" y1="712.2" x2="611.5" y2="727.5" stroke="#444" stroke-width="0.8"/>
<text x="611.5" y="711.6" font-size="6.8" fill="#444" font-weight="normal" text-anchor="middle" textLength="15.0" lengthAdjust="spacingAndGlyphs">964.2</text>
<text x="611.5" y="739.5" font-size="7" fill="#222" font-weight="bold" text-anchor="middle" textLength="15.5" lengthAdjust="spacingAndGlyphs">2010</text>
<line x1="642.3" y1="694.4" x2="642.3" y2="697.8" stroke="#444" stroke-width="0.8"/>
<text x="642.3" y="693.8" font-size="6.8" fill="#444" font-weight="normal" text-anchor="middle" textLength="21.0" lengthAdjust="spacingAndGlyphs">1,295.6</text>
<text x="642.3" y="739.5" font-size="7" fill="#222" font-weight="bold" text-anchor="middle" textLength="15.5" lengthAdjust="spacingAndGlyphs">2011</text>
<line x1="673.0" y1="688.4" x2="673.0" y2="699.6" stroke="#444" stroke-width="0.8"/>
<text x="673.0" y="687.8" font-size="6.8" fill="#444" font-weight="normal" text-anchor="middle" textLength="21.0" lengthAdjust="spacingAndGlyphs">1,280.6</text>
<text x="673.0" y="739.5" font-size="7" fill="#222" font-weight="bold" text-anchor="middle" textLength="15.5" lengthAdjust="spacingAndGlyphs">2012</text>
<line x1="703.8" y1="698.8" x2="703.8" y2="705.2" stroke="#444" stroke-width="0.8"/>
<text x="703.8" y="698.2" font-size="6.8" fill="#444" font-weight="normal" text-anchor="middle" textLength="21.0" lengthAdjust="spacingAndGlyphs">1,210.2</text>
<text x="703.8" y="739.5" font-size="7" fill="#222" font-weight="bold" text-anchor="middle" textLength="15.5" lengthAdjust="spacingAndGlyphs">2013</text>
<line x1="734.5" y1="691.4" x2="734.5" y2="702.2" stroke="#444" stroke-width="0.8"/>
<text x="734.5" y="690.8" font-size="6.8" fill="#444" font-weight="normal" text-anchor="middle" textLength="21.0" lengthAdjust="spacingAndGlyphs">1,248.1</text>
<text x="736.0" y="739.5" font-size="7" fill="#222" font-weight="bold" text-anchor="middle" textLength="19" lengthAdjust="spacingAndGlyphs">2014*</text>
<text x="550.4" y="750.0" font-size="6.5" fill="#444" font-weight="normal" text-anchor="start" textLength="70" lengthAdjust="spacingAndGlyphs">*CIFRAS PREELIMINARES</text>
<text transform="translate(758.4,797.9) rotate(-90)" font-size="7.6" fill="#333" textLength="344" lengthAdjust="spacingAndGlyphs">FUENTE: CONSEJO NACIONAL DE ZONAS FRANCAS DE EXPORTACIÓN  |  BANCO CENTRAL DE LA REPÚBLICA DOMINICANA</text>
<text transform="translate(765.0,795.6) rotate(-90)" font-size="7.4" fill="#333" textLength="108" lengthAdjust="spacingAndGlyphs">INFOGRAFÍA: ROBERTO SEVERINO</text>
<text x="59.9" y="656.4" font-size="14.4" fill="#6a89b4" font-weight="bold" text-anchor="start" textLength="336.8" lengthAdjust="spacingAndGlyphs" stroke="#6a89b4" stroke-width="0.55">CONTRIBUCIÓN DE LAS ZONAS FRANCAS AL PRODUCTO INTERNO BRUTO</text>
<rect x="61" y="662.3" width="6.2" height="7.9" fill="#b7c5e1"/>
<text x="67.8" y="669.5" font-size="9" fill="#2b2b2b" font-weight="normal" text-anchor="start" textLength="48.6" lengthAdjust="spacingAndGlyphs">Presupuesto</text>
<rect x="126.8" y="662.3" width="7.6" height="7.9" fill="#9b2236"/>
<text x="135.2" y="669.5" font-size="9" fill="#2b2b2b" font-weight="normal" text-anchor="start" textLength="108.8" lengthAdjust="spacingAndGlyphs">Aporte de las Zonas Francas</text>
<text x="60.0" y="679.9" font-size="9" fill="#2b2b2b" font-weight="normal" text-anchor="start" textLength="147.6" lengthAdjust="spacingAndGlyphs">2009-2014, (Cifras en millones de RD$)</text>
<circle cx="85.4" cy="710.5" r="26" fill="#b7c5e1"/>
<path d="M85.4,710.5 L112.4,710.5 L111.9,705.3 Z" fill="#8f1e38"/>
<line x1="108.4" y1="708.5" x2="115.4" y2="709.0" stroke="#f3d5da" stroke-width="0.8"/>
<text x="114.4" y="715.2" font-size="8.2" fill="#444" font-weight="normal" text-anchor="start" textLength="17.5" lengthAdjust="spacingAndGlyphs">3.2%</text>
<text x="85.4" y="744.5" font-size="7.6" fill="#222" font-weight="bold" text-anchor="middle" textLength="18" lengthAdjust="spacingAndGlyphs">2009</text>
<circle cx="166.3" cy="710.5" r="26" fill="#b7c5e1"/>
<path d="M166.3,710.5 L193.3,710.5 L192.8,705.3 Z" fill="#8f1e38"/>
<line x1="189.3" y1="708.5" x2="196.3" y2="709.0" stroke="#f3d5da" stroke-width="0.8"/>
<text x="195.3" y="715.2" font-size="8.2" fill="#444" font-weight="normal" text-anchor="start" textLength="17.5" lengthAdjust="spacingAndGlyphs">3.1%</text>
<text x="166.3" y="744.5" font-size="7.6" fill="#222" font-weight="bold" text-anchor="middle" textLength="18" lengthAdjust="spacingAndGlyphs">2010</text>
<circle cx="247.2" cy="710.5" r="26" fill="#b7c5e1"/>
<path d="M247.2,710.5 L274.2,710.5 L273.7,705.3 Z" fill="#8f1e38"/>
<line x1="270.2" y1="708.5" x2="277.2" y2="709.0" stroke="#f3d5da" stroke-width="0.8"/>
<text x="276.2" y="715.2" font-size="8.2" fill="#444" font-weight="normal" text-anchor="start" textLength="17.5" lengthAdjust="spacingAndGlyphs">3.3%</text>
<text x="247.2" y="744.5" font-size="7.6" fill="#222" font-weight="bold" text-anchor="middle" textLength="18" lengthAdjust="spacingAndGlyphs">2011</text>
<circle cx="328.1" cy="710.5" r="26" fill="#b7c5e1"/>
<path d="M328.1,710.5 L355.1,710.5 L354.6,705.3 Z" fill="#8f1e38"/>
<line x1="351.1" y1="708.5" x2="358.1" y2="709.0" stroke="#f3d5da" stroke-width="0.8"/>
<text x="357.1" y="715.2" font-size="8.2" fill="#444" font-weight="normal" text-anchor="start" textLength="17.5" lengthAdjust="spacingAndGlyphs">3.2%</text>
<text x="328.1" y="744.5" font-size="7.6" fill="#222" font-weight="bold" text-anchor="middle" textLength="18" lengthAdjust="spacingAndGlyphs">2012</text>
<circle cx="409.0" cy="710.5" r="26" fill="#b7c5e1"/>
<path d="M409.0,710.5 L436.0,710.5 L435.5,705.3 Z" fill="#8f1e38"/>
<line x1="432.0" y1="708.5" x2="439.0" y2="709.0" stroke="#f3d5da" stroke-width="0.8"/>
<text x="438.0" y="715.2" font-size="8.2" fill="#444" font-weight="normal" text-anchor="start" textLength="17.5" lengthAdjust="spacingAndGlyphs">3.2%</text>
<text x="409.0" y="744.5" font-size="7.6" fill="#222" font-weight="bold" text-anchor="middle" textLength="18" lengthAdjust="spacingAndGlyphs">2013</text>
<circle cx="489.9" cy="710.5" r="26" fill="#b7c5e1"/>
<path d="M489.9,710.5 L516.9,710.5 L516.4,705.3 Z" fill="#8f1e38"/>
<line x1="512.9" y1="708.5" x2="519.9" y2="709.0" stroke="#f3d5da" stroke-width="0.8"/>
<text x="518.9" y="715.2" font-size="8.2" fill="#444" font-weight="normal" text-anchor="start" textLength="17.5" lengthAdjust="spacingAndGlyphs">3.1%</text>
<text x="489.9" y="744.5" font-size="7.6" fill="#222" font-weight="bold" text-anchor="middle" textLength="18" lengthAdjust="spacingAndGlyphs">2014</text>
<text x="59.9" y="768.4" font-size="14.4" fill="#6a89b4" font-weight="bold" text-anchor="start" textLength="181.5" lengthAdjust="spacingAndGlyphs" stroke="#6a89b4" stroke-width="0.55">EMPRESAS OPERANDO POR SECTORES</text>
<text x="243.0" y="768.6" font-size="9.5" fill="#333" font-weight="normal" text-anchor="start" textLength="28.3" lengthAdjust="spacingAndGlyphs">(2014)</text>
<line x1="78.6" y1="782" x2="78.6" y2="807.5" stroke="#8c3a44" stroke-width="0.9"/>
<rect x="61.7" y="774.2" width="33.1" height="7.8" fill="#fff" stroke="#8c3a44" stroke-width="0.9"/>
<text x="78.2" y="780.4" font-size="6.37999999999995" fill="#333" font-weight="normal" text-anchor="middle" textLength="30.099999999999994" lengthAdjust="spacingAndGlyphs">Servicios</text>
<circle cx="78.6" cy="827" r="19.5" fill="#d8191f"/>
<text x="78.6" y="863.1" font-size="17" fill="#2e2e2e" font-weight="normal" text-anchor="middle" textLength="19.799999999999997" lengthAdjust="spacingAndGlyphs" stroke="#2e2e2e" stroke-width="0.7">124</text>
<line x1="130.7" y1="790.6" x2="130.7" y2="810.0999999999999" stroke="#8c3a44" stroke-width="0.9"/>
<rect x="107.8" y="773.6" width="45.8" height="17.0" fill="#fff" stroke="#8c3a44" stroke-width="0.9"/>
<text x="130.7" y="781.3" font-size="8.25" fill="#333" font-weight="normal" text-anchor="middle" textLength="40.7" lengthAdjust="spacingAndGlyphs">Manufactura</text>
<text x="130.7" y="788.8" font-size="8.25" fill="#333" font-weight="normal" text-anchor="middle" textLength="22.200000000000003" lengthAdjust="spacingAndGlyphs">Textil</text>
<circle cx="130.7" cy="828.3" r="18.2" fill="#d8191f"/>
<text x="130.7" y="863.1" font-size="17" fill="#2e2e2e" font-weight="normal" text-anchor="middle" textLength="19.799999999999997" lengthAdjust="spacingAndGlyphs" stroke="#2e2e2e" stroke-width="0.7">108</text>
<line x1="178.4" y1="813.2" x2="178.4" y2="818.2" stroke="#8c3a44" stroke-width="0.9"/>
<rect x="154.7" y="796.6" width="48.4" height="16.6" fill="#fff" stroke="#8c3a44" stroke-width="0.9"/>
<text x="178.9" y="804.1" font-size="8.030000000000014" fill="#333" font-weight="normal" text-anchor="middle" textLength="44.400000000000006" lengthAdjust="spacingAndGlyphs">Tabaco y sus</text>
<text x="178.9" y="811.4" font-size="8.030000000000014" fill="#333" font-weight="normal" text-anchor="middle" textLength="33.300000000000004" lengthAdjust="spacingAndGlyphs">derivados</text>
<circle cx="178.4" cy="832.2" r="14" fill="#d8191f"/>
<text x="178.4" y="863.1" font-size="17" fill="#2e2e2e" font-weight="normal" text-anchor="middle" textLength="13.2" lengthAdjust="spacingAndGlyphs" stroke="#2e2e2e" stroke-width="0.7">66</text>
<line x1="220.6" y1="792.4" x2="220.6" y2="820.5" stroke="#8c3a44" stroke-width="0.9"/>
<rect x="191.9" y="773.6" width="57.3" height="18.8" fill="#fff" stroke="#8c3a44" stroke-width="0.9"/>
<text x="220.6" y="782.0" font-size="8.8" fill="#333" font-weight="normal" text-anchor="middle" textLength="33.300000000000004" lengthAdjust="spacingAndGlyphs">Productos</text>
<text x="220.6" y="790.4" font-size="8.8" fill="#333" font-weight="normal" text-anchor="middle" textLength="54.29999999999998" lengthAdjust="spacingAndGlyphs">Agroindustriales</text>
<circle cx="220.6" cy="833.5" r="13" fill="#d8191f"/>
<text x="220.6" y="863.1" font-size="17" fill="#2e2e2e" font-weight="normal" text-anchor="middle" textLength="13.2" lengthAdjust="spacingAndGlyphs" stroke="#2e2e2e" stroke-width="0.7">56</text>
<line x1="260.8" y1="810" x2="260.8" y2="822.9" stroke="#8c3a44" stroke-width="0.9"/>
<rect x="229.7" y="801.1" width="63.7" height="8.9" fill="#fff" stroke="#8c3a44" stroke-width="0.9"/>
<text x="261.5" y="808.3" font-size="7.589999999999976" fill="#333" font-weight="normal" text-anchor="middle" textLength="60.69999999999999" lengthAdjust="spacingAndGlyphs">Comercializadoras</text>
<circle cx="260.8" cy="835" r="12.1" fill="#d8191f"/>
<text x="260.8" y="863.1" font-size="17" fill="#2e2e2e" font-weight="normal" text-anchor="middle" textLength="13.2" lengthAdjust="spacingAndGlyphs" stroke="#2e2e2e" stroke-width="0.7">48</text>
<line x1="297.8" y1="792.6" x2="297.8" y2="827.8" stroke="#8c3a44" stroke-width="0.9"/>
<rect x="270" y="773" width="56.5" height="19.6" fill="#fff" stroke="#8c3a44" stroke-width="0.9"/>
<text x="298.2" y="781.6" font-size="8.8" fill="#333" font-weight="normal" text-anchor="middle" textLength="51.800000000000004" lengthAdjust="spacingAndGlyphs">Calzados y sus</text>
<text x="298.2" y="790.4" font-size="8.8" fill="#333" font-weight="normal" text-anchor="middle" textLength="40.7" lengthAdjust="spacingAndGlyphs">componentes</text>
<circle cx="297.8" cy="837.3" r="9.5" fill="#d8191f"/>
<text x="297.8" y="863.1" font-size="17" fill="#2e2e2e" font-weight="normal" text-anchor="middle" textLength="13.2" lengthAdjust="spacingAndGlyphs" stroke="#2e2e2e" stroke-width="0.7">30</text>
<line x1="331.7" y1="823.3" x2="331.7" y2="828.1" stroke="#8c3a44" stroke-width="0.9"/>
<rect x="302.5" y="795.2" width="57.8" height="28.1" fill="#fff" stroke="#8c3a44" stroke-width="0.9"/>
<text x="331.4" y="802.0" font-size="7.177499999999975" fill="#333" font-weight="normal" text-anchor="middle" textLength="33.300000000000004" lengthAdjust="spacingAndGlyphs">Productos</text>
<text x="331.4" y="808.6" font-size="7.177499999999975" fill="#333" font-weight="normal" text-anchor="middle" textLength="54.80000000000001" lengthAdjust="spacingAndGlyphs">farmacéuticos e</text>
<text x="331.4" y="815.1" font-size="7.177499999999975" fill="#333" font-weight="normal" text-anchor="middle" textLength="51.800000000000004" lengthAdjust="spacingAndGlyphs">instrumentos y</text>
<text x="331.4" y="821.6" font-size="7.177499999999975" fill="#333" font-weight="normal" text-anchor="middle" textLength="54.80000000000001" lengthAdjust="spacingAndGlyphs">equipos médicos</text>
<circle cx="331.7" cy="837.5" r="9.4" fill="#d8191f"/>
<text x="331.7" y="863.1" font-size="17" fill="#2e2e2e" font-weight="normal" text-anchor="middle" textLength="13.2" lengthAdjust="spacingAndGlyphs" stroke="#2e2e2e" stroke-width="0.7">28</text>
<line x1="364.5" y1="792.6" x2="364.5" y2="828.5" stroke="#8c3a44" stroke-width="0.9"/>
<rect x="340.3" y="773" width="48.7" height="19.6" fill="#fff" stroke="#8c3a44" stroke-width="0.9"/>
<text x="364.6" y="781.6" font-size="8.8" fill="#333" font-weight="normal" text-anchor="middle" textLength="40.7" lengthAdjust="spacingAndGlyphs">Reciclaje y</text>
<text x="364.6" y="790.4" font-size="8.8" fill="#333" font-weight="normal" text-anchor="middle" textLength="45.69999999999999" lengthAdjust="spacingAndGlyphs">clasificación</text>
<circle cx="364.5" cy="837.5" r="9" fill="#d8191f"/>
<text x="364.5" y="863.1" font-size="17" fill="#2e2e2e" font-weight="normal" text-anchor="middle" textLength="13.2" lengthAdjust="spacingAndGlyphs" stroke="#2e2e2e" stroke-width="0.7">25</text>
<line x1="396.25" y1="821.2" x2="396.25" y2="830.3000000000001" stroke="#8c3a44" stroke-width="0.9"/>
<rect x="367.6" y="803" width="57.3" height="18.2" fill="#fff" stroke="#8c3a44" stroke-width="0.9"/>
<text x="396.2" y="811.2" font-size="8.8" fill="#333" font-weight="normal" text-anchor="middle" textLength="54.299999999999955" lengthAdjust="spacingAndGlyphs">Cartón, impresos</text>
<text x="396.2" y="819.3" font-size="8.8" fill="#333" font-weight="normal" text-anchor="middle" textLength="40.7" lengthAdjust="spacingAndGlyphs">y papelería</text>
<circle cx="396.25" cy="838.6" r="8.3" fill="#d8191f"/>
<text x="396.2" y="863.1" font-size="17" fill="#2e2e2e" font-weight="normal" text-anchor="middle" textLength="13.2" lengthAdjust="spacingAndGlyphs" stroke="#2e2e2e" stroke-width="0.7">21</text>
<line x1="427" y1="796" x2="427" y2="830.5" stroke="#8c3a44" stroke-width="0.9"/>
<rect x="403.9" y="773" width="46.9" height="23.0" fill="#fff" stroke="#8c3a44" stroke-width="0.9"/>
<text x="427.4" y="780.3" font-size="7.700000000000001" fill="#333" font-weight="normal" text-anchor="middle" textLength="33.300000000000004" lengthAdjust="spacingAndGlyphs">Productos</text>
<text x="427.4" y="787.3" font-size="7.700000000000001" fill="#333" font-weight="normal" text-anchor="middle" textLength="43.900000000000034" lengthAdjust="spacingAndGlyphs">eléctricos y</text>
<text x="427.4" y="794.3" font-size="7.700000000000001" fill="#333" font-weight="normal" text-anchor="middle" textLength="43.900000000000034" lengthAdjust="spacingAndGlyphs">electrónicos</text>
<circle cx="427" cy="838.6" r="8.1" fill="#d8191f"/>
<text x="427.0" y="863.1" font-size="17" fill="#2e2e2e" font-weight="normal" text-anchor="middle" textLength="13.2" lengthAdjust="spacingAndGlyphs" stroke="#2e2e2e" stroke-width="0.7">20</text>
<line x1="457.3" y1="816.8" x2="457.3" y2="833.3000000000001" stroke="#8c3a44" stroke-width="0.9"/>
<rect x="442.2" y="805.6" width="29.4" height="11.2" fill="#fff" stroke="#8c3a44" stroke-width="0.9"/>
<text x="456.9" y="814.4" font-size="8.8" fill="#333" font-weight="normal" text-anchor="middle" textLength="25.900000000000002" lengthAdjust="spacingAndGlyphs">Joyería</text>
<circle cx="457.3" cy="840.2" r="6.9" fill="#d8191f"/>
<text x="457.3" y="863.1" font-size="17" fill="#2e2e2e" font-weight="normal" text-anchor="middle" textLength="13.2" lengthAdjust="spacingAndGlyphs" stroke="#2e2e2e" stroke-width="0.7">16</text>
<line x1="485.9" y1="801.7" x2="485.9" y2="833.4000000000001" stroke="#8c3a44" stroke-width="0.9"/>
<rect x="459.4" y="773.5" width="52.1" height="28.2" fill="#fff" stroke="#8c3a44" stroke-width="0.9"/>
<text x="485.4" y="782.0" font-size="8.8" fill="#333" font-weight="normal" text-anchor="middle" textLength="48.1" lengthAdjust="spacingAndGlyphs">Contrucción y</text>
<text x="485.4" y="790.8" font-size="8.8" fill="#333" font-weight="normal" text-anchor="middle" textLength="48.1" lengthAdjust="spacingAndGlyphs">materiales de</text>
<text x="485.4" y="799.5" font-size="8.8" fill="#333" font-weight="normal" text-anchor="middle" textLength="44.400000000000006" lengthAdjust="spacingAndGlyphs">construcción</text>
<circle cx="485.9" cy="840.2" r="6.8" fill="#d8191f"/>
<text x="485.9" y="863.1" font-size="17" fill="#2e2e2e" font-weight="normal" text-anchor="middle" textLength="13.2" lengthAdjust="spacingAndGlyphs" stroke="#2e2e2e" stroke-width="0.7">14</text>
<line x1="512.8" y1="825.1" x2="512.8" y2="835.15" stroke="#8c3a44" stroke-width="0.9"/>
<rect x="489" y="806.9" width="47.7" height="18.2" fill="#fff" stroke="#8c3a44" stroke-width="0.9"/>
<text x="512.9" y="815.1" font-size="8.8" fill="#333" font-weight="normal" text-anchor="middle" textLength="44.700000000000045" lengthAdjust="spacingAndGlyphs">Metales y sus</text>
<text x="512.9" y="823.2" font-size="8.8" fill="#333" font-weight="normal" text-anchor="middle" textLength="44.400000000000006" lengthAdjust="spacingAndGlyphs">manufacturas</text>
<circle cx="512.8" cy="841.25" r="6.1" fill="#d8191f"/>
<text x="512.8" y="863.1" font-size="17" fill="#2e2e2e" font-weight="normal" text-anchor="middle" textLength="13.2" lengthAdjust="spacingAndGlyphs" stroke="#2e2e2e" stroke-width="0.7">11</text>
<line x1="539.3" y1="793.9" x2="539.3" y2="835.5999999999999" stroke="#8c3a44" stroke-width="0.9"/>
<rect x="520.3" y="773.5" width="38.0" height="20.4" fill="#fff" stroke="#8c3a44" stroke-width="0.9"/>
<text x="539.3" y="782.3" font-size="8.8" fill="#333" font-weight="normal" text-anchor="middle" textLength="33.300000000000004" lengthAdjust="spacingAndGlyphs">Artículos</text>
<text x="539.3" y="791.5" font-size="8.8" fill="#333" font-weight="normal" text-anchor="middle" textLength="35.0" lengthAdjust="spacingAndGlyphs">de plástico</text>
<circle cx="539.3" cy="841.3" r="5.7" fill="#d8191f"/>
<text x="539.3" y="863.1" font-size="17" fill="#2e2e2e" font-weight="normal" text-anchor="middle" textLength="13.2" lengthAdjust="spacingAndGlyphs" stroke="#2e2e2e" stroke-width="0.7">10</text>
<line x1="564.6" y1="819.4" x2="564.6" y2="836.8" stroke="#8c3a44" stroke-width="0.9"/>
<rect x="543.75" y="802.2" width="41.6" height="17.2" fill="#fff" stroke="#8c3a44" stroke-width="0.9"/>
<text x="564.6" y="810.0" font-size="8.359999999999964" fill="#333" font-weight="normal" text-anchor="middle" textLength="25.900000000000002" lengthAdjust="spacingAndGlyphs">Bebidas</text>
<text x="564.6" y="817.6" font-size="8.359999999999964" fill="#333" font-weight="normal" text-anchor="middle" textLength="38.64999999999998" lengthAdjust="spacingAndGlyphs">alcohólicas</text>
<circle cx="564.6" cy="842" r="5.2" fill="#d8191f"/>
<text x="564.6" y="863.1" font-size="17" fill="#2e2e2e" font-weight="normal" text-anchor="middle" textLength="6.6" lengthAdjust="spacingAndGlyphs" stroke="#2e2e2e" stroke-width="0.7">8</text>
<line x1="589.3" y1="791.8" x2="589.3" y2="837.2" stroke="#8c3a44" stroke-width="0.9"/>
<rect x="565.2" y="773" width="48.2" height="18.8" fill="#fff" stroke="#8c3a44" stroke-width="0.9"/>
<text x="589.3" y="781.4" font-size="8.8" fill="#333" font-weight="normal" text-anchor="middle" textLength="44.400000000000006" lengthAdjust="spacingAndGlyphs">Madera y sus</text>
<text x="589.3" y="789.8" font-size="8.8" fill="#333" font-weight="normal" text-anchor="middle" textLength="44.400000000000006" lengthAdjust="spacingAndGlyphs">manufacturas</text>
<circle cx="589.3" cy="842" r="4.8" fill="#d8191f"/>
<text x="589.3" y="863.1" font-size="17" fill="#2e2e2e" font-weight="normal" text-anchor="middle" textLength="6.6" lengthAdjust="spacingAndGlyphs" stroke="#2e2e2e" stroke-width="0.7">7</text>
<line x1="612.9" y1="834.2" x2="612.9" y2="838.0" stroke="#8c3a44" stroke-width="0.9"/>
<rect x="594.4" y="816" width="36.4" height="18.2" fill="#fff" stroke="#8c3a44" stroke-width="0.9"/>
<text x="612.6" y="824.2" font-size="8.8" fill="#333" font-weight="normal" text-anchor="middle" textLength="33.300000000000004" lengthAdjust="spacingAndGlyphs">Productos</text>
<text x="612.6" y="832.3" font-size="8.8" fill="#333" font-weight="normal" text-anchor="middle" textLength="29.6" lengthAdjust="spacingAndGlyphs">químicos</text>
<circle cx="612.9" cy="842.8" r="4.8" fill="#d8191f"/>
<text x="612.9" y="863.1" font-size="17" fill="#2e2e2e" font-weight="normal" text-anchor="middle" textLength="6.6" lengthAdjust="spacingAndGlyphs" stroke="#2e2e2e" stroke-width="0.7">6</text>
<line x1="636" y1="814.2" x2="636" y2="839" stroke="#8c3a44" stroke-width="0.9"/>
<rect x="613.4" y="796.5" width="45.6" height="17.7" fill="#fff" stroke="#8c3a44" stroke-width="0.9"/>
<text x="636.2" y="804.5" font-size="8.635000000000026" fill="#333" font-weight="normal" text-anchor="middle" textLength="42.60000000000002" lengthAdjust="spacingAndGlyphs">Pieles y sus</text>
<text x="636.2" y="812.4" font-size="8.635000000000026" fill="#333" font-weight="normal" text-anchor="middle" textLength="42.60000000000002" lengthAdjust="spacingAndGlyphs">manufacturas</text>
<circle cx="636" cy="843" r="4" fill="#d8191f"/>
<text x="636.0" y="863.1" font-size="17" fill="#2e2e2e" font-weight="normal" text-anchor="middle" textLength="6.6" lengthAdjust="spacingAndGlyphs" stroke="#2e2e2e" stroke-width="0.7">5</text>
<line x1="658.2" y1="828.2" x2="658.2" y2="840.6" stroke="#8c3a44" stroke-width="0.9"/>
<rect x="639.4" y="817.8" width="37.3" height="10.4" fill="#fff" stroke="#8c3a44" stroke-width="0.9"/>
<text x="658.0" y="826.2" font-size="8.8" fill="#333" font-weight="normal" text-anchor="middle" textLength="33.300000000000004" lengthAdjust="spacingAndGlyphs">Alimentos</text>
<circle cx="658.2" cy="843.9" r="3.3" fill="#d8191f"/>
<text x="658.2" y="863.1" font-size="17" fill="#2e2e2e" font-weight="normal" text-anchor="middle" textLength="6.6" lengthAdjust="spacingAndGlyphs" stroke="#2e2e2e" stroke-width="0.7">3</text>
<line x1="678.5" y1="794.9" x2="678.5" y2="842.0" stroke="#8c3a44" stroke-width="0.9"/>
<rect x="660.7" y="784.5" width="36.4" height="10.4" fill="#fff" stroke="#8c3a44" stroke-width="0.9"/>
<text x="678.9" y="792.9" font-size="8.8" fill="#333" font-weight="normal" text-anchor="middle" textLength="33.39999999999998" lengthAdjust="spacingAndGlyphs">Artesanías</text>
<circle cx="678.5" cy="844.6" r="2.6" fill="#d8191f"/>
<text x="678.5" y="863.1" font-size="17" fill="#2e2e2e" font-weight="normal" text-anchor="middle" textLength="6.6" lengthAdjust="spacingAndGlyphs" stroke="#2e2e2e" stroke-width="0.7">2</text>
<line x1="698.4" y1="783" x2="698.4" y2="842.0" stroke="#8c3a44" stroke-width="0.9"/>
<rect x="676.3" y="773.4" width="43.8" height="9.6" fill="#fff" stroke="#8c3a44" stroke-width="0.9"/>
<text x="698.2" y="781.2" font-size="8.360000000000026" fill="#333" font-weight="normal" text-anchor="middle" textLength="40.80000000000007" lengthAdjust="spacingAndGlyphs">Combustibles</text>
<circle cx="698.4" cy="844.6" r="2.6" fill="#d8191f"/>
<text x="698.4" y="863.1" font-size="17" fill="#2e2e2e" font-weight="normal" text-anchor="middle" textLength="6.6" lengthAdjust="spacingAndGlyphs" stroke="#2e2e2e" stroke-width="0.7">2</text>
<line x1="718.2" y1="812.4" x2="718.2" y2="842.0" stroke="#8c3a44" stroke-width="0.9"/>
<rect x="701.5" y="793.1" width="33.5" height="19.3" fill="#fff" stroke="#8c3a44" stroke-width="0.9"/>
<text x="718.2" y="801.6" font-size="8.8" fill="#333" font-weight="normal" text-anchor="middle" textLength="29.6" lengthAdjust="spacingAndGlyphs">Dulces y</text>
<text x="718.2" y="810.2" font-size="8.8" fill="#333" font-weight="normal" text-anchor="middle" textLength="30.5" lengthAdjust="spacingAndGlyphs">confiterías</text>
<circle cx="718.2" cy="844.6" r="2.6" fill="#d8191f"/>
<text x="718.2" y="863.1" font-size="17" fill="#2e2e2e" font-weight="normal" text-anchor="middle" textLength="6.6" lengthAdjust="spacingAndGlyphs" stroke="#2e2e2e" stroke-width="0.7">2</text>
<line x1="742.9" y1="824.9" x2="742.9" y2="832.1999999999999" stroke="#8c3a44" stroke-width="0.9"/>
<rect x="731.2" y="815" width="23.0" height="9.9" fill="#fff" stroke="#8c3a44" stroke-width="0.9"/>
<text x="742.7" y="823.1" font-size="8.689999999999976" fill="#333" font-weight="normal" text-anchor="middle" textLength="18.5" lengthAdjust="spacingAndGlyphs">Otros</text>
<circle cx="742.9" cy="839.4" r="7.2" fill="#d8191f"/>
<text x="742.9" y="863.1" font-size="17" fill="#2e2e2e" font-weight="normal" text-anchor="middle" textLength="13.2" lengthAdjust="spacingAndGlyphs" stroke="#2e2e2e" stroke-width="0.7">17</text>
</svg></body></html>
